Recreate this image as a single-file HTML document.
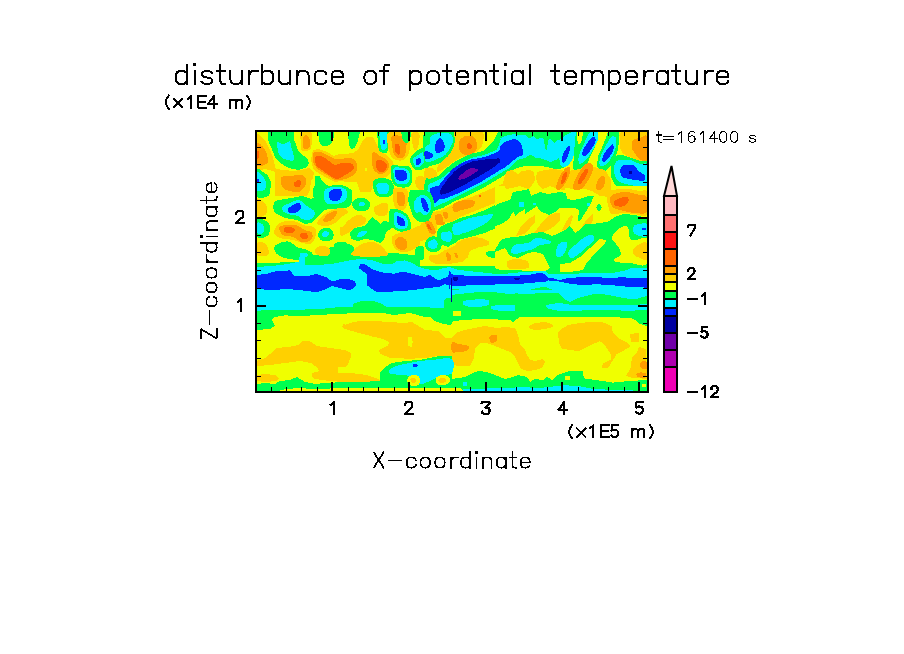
<!DOCTYPE html><html><head><meta charset="utf-8"><style>html,body{margin:0;padding:0;background:#fff;}svg{display:block}</style></head><body>
<svg width="904" height="654" viewBox="0 0 904 654">
<rect width="904" height="654" fill="#fff"/>
<g shape-rendering="crispEdges">
<rect x="257" y="132" width="390" height="259" fill="#f0ff00"/>
<path fill="#7000a8" d="M470 168h5v1h-5zM468 169h10v1h-10zM466 170h12v1h-12zM465 171h12v1h-12zM464 172h11v1h-11zM463 173h11v1h-11zM461 174h11v1h-11zM460 175h11v1h-11zM459 176h10v1h-10zM459 177h8v1h-8zM458 178h7v1h-7zM459 179h2v1h-2z"/>
<path fill="#0000a0" d="M497 158h2v1h-2zM485 159h15v1h-15zM478 160h22v1h-22zM472 161h28v1h-28zM470 162h30v1h-30zM467 163h31v1h-31zM465 164h32v1h-32zM463 165h33v1h-33zM461 166h34v1h-34zM460 167h33v1h-33zM458 168h12v1h-12zM475 168h17v1h-17zM457 169h11v1h-11zM478 169h12v1h-12zM456 170h10v1h-10zM478 170h11v1h-11zM454 171h11v1h-11zM477 171h10v1h-10zM629 171h3v3h-3zM453 172h11v1h-11zM475 172h10v1h-10zM453 173h10v1h-10zM474 173h10v1h-10zM452 174h9v1h-9zM472 174h10v1h-10zM451 175h9v1h-9zM471 175h9v1h-9zM450 176h9v1h-9zM469 176h10v1h-10zM449 177h10v1h-10zM467 177h10v1h-10zM448 178h10v1h-10zM465 178h10v1h-10zM447 179h12v1h-12zM461 179h12v1h-12zM447 180h25v1h-25zM446 181h24v1h-24zM445 182h23v1h-23zM445 183h22v1h-22zM444 184h21v1h-21zM443 185h20v1h-20zM442 186h19v1h-19zM442 187h17v1h-17zM441 188h16v1h-16zM441 189h14v1h-14zM440 190h13v1h-13zM440 191h11v1h-11zM440 192h9v1h-9zM440 193h6v1h-6zM441 194h1v1h-1zM453 277h5v3h-5zM451 278h1v24h-1zM514 278h6v1h-6zM515 279h4v1h-4zM454 280h3v1h-3z"/>
<path fill="#0028ff" d="M592 137h3v1h-3zM439 138h2v1h-2zM591 138h4v1h-4zM438 139h4v1h-4zM512 139h4v1h-4zM590 139h6v1h-6zM383 140h2v4h-2zM437 140h6v1h-6zM509 140h9v1h-9zM589 140h7v1h-7zM436 141h7v1h-7zM506 141h13v1h-13zM588 141h7v2h-7zM436 142h8v2h-8zM504 142h16v1h-16zM503 143h18v1h-18zM587 143h8v1h-8zM435 144h9v1h-9zM435 148h9v3h-9zM502 144h19v1h-19zM586 144h8v2h-8zM612 144h1v1h-1zM435 145h10v3h-10zM501 145h21v1h-21zM611 145h2v1h-2zM500 146h22v3h-22zM568 146h2v1h-2zM585 146h8v1h-8zM610 146h4v1h-4zM567 147h3v1h-3zM584 147h8v2h-8zM609 147h5v1h-5zM566 148h4v2h-4zM608 148h6v1h-6zM500 149h23v1h-23zM583 149h8v1h-8zM607 149h6v1h-6zM499 150h24v1h-24zM565 150h5v1h-5zM583 150h7v2h-7zM606 150h7v2h-7zM425 151h3v1h-3zM436 151h6v1h-6zM498 151h25v1h-25zM564 151h5v2h-5zM424 152h6v1h-6zM436 152h4v1h-4zM496 152h27v1h-27zM582 152h7v1h-7zM605 152h7v1h-7zM424 153h8v1h-8zM494 153h29v1h-29zM563 153h6v1h-6zM582 153h6v1h-6zM604 153h8v1h-8zM424 154h9v2h-9zM491 154h32v1h-32zM563 154h5v2h-5zM582 154h5v1h-5zM604 154h7v1h-7zM489 155h33v1h-33zM583 155h3v1h-3zM603 155h7v2h-7zM425 156h8v1h-8zM486 156h33v1h-33zM562 156h6v1h-6zM425 157h7v1h-7zM482 157h35v1h-35zM562 157h5v2h-5zM603 157h6v1h-6zM418 158h2v1h-2zM425 158h5v1h-5zM477 158h20v1h-20zM499 158h17v1h-17zM602 158h6v1h-6zM416 159h5v4h-5zM471 159h14v1h-14zM500 159h15v1h-15zM562 159h4v2h-4zM602 159h5v1h-5zM468 160h10v1h-10zM500 160h13v1h-13zM602 160h4v1h-4zM465 161h7v1h-7zM500 161h12v1h-12zM562 161h3v1h-3zM603 161h2v1h-2zM463 162h7v1h-7zM500 162h11v1h-11zM563 162h1v1h-1zM416 163h4v1h-4zM461 163h6v1h-6zM498 163h12v1h-12zM416 164h3v1h-3zM459 164h6v1h-6zM497 164h12v1h-12zM458 165h5v1h-5zM496 165h11v1h-11zM623 165h11v1h-11zM456 166h5v1h-5zM495 166h11v1h-11zM622 166h13v1h-13zM455 167h5v1h-5zM493 167h12v1h-12zM621 167h15v1h-15zM453 168h5v1h-5zM492 168h11v1h-11zM621 168h16v1h-16zM452 169h5v1h-5zM490 169h11v1h-11zM620 169h17v1h-17zM395 170h9v1h-9zM451 170h5v1h-5zM489 170h10v1h-10zM620 170h18v1h-18zM395 171h11v2h-11zM450 171h4v1h-4zM487 171h11v1h-11zM620 171h9v2h-9zM632 171h7v1h-7zM450 172h3v1h-3zM485 172h11v1h-11zM632 172h9v1h-9zM395 173h12v4h-12zM449 173h4v1h-4zM449 274h4v1h-4zM484 173h11v1h-11zM621 173h8v1h-8zM632 173h10v1h-10zM448 174h4v1h-4zM482 174h11v1h-11zM621 174h23v1h-23zM447 175h4v1h-4zM480 175h11v1h-11zM621 175h24v1h-24zM446 176h4v1h-4zM479 176h11v1h-11zM622 176h23v1h-23zM396 177h11v2h-11zM445 177h4v1h-4zM477 177h11v1h-11zM623 177h22v1h-22zM444 178h4v1h-4zM475 178h11v1h-11zM627 178h18v1h-18zM257 179h2v4h-2zM397 179h9v1h-9zM444 179h3v1h-3zM473 179h12v1h-12zM632 179h13v1h-13zM399 180h5v1h-5zM443 180h4v1h-4zM472 180h11v1h-11zM639 180h5v1h-5zM442 181h4v1h-4zM470 181h12v1h-12zM441 182h4v1h-4zM468 182h12v1h-12zM440 183h5v1h-5zM467 183h11v1h-11zM440 184h4v1h-4zM465 184h11v1h-11zM439 185h4v1h-4zM463 185h11v1h-11zM435 186h7v1h-7zM461 186h11v1h-11zM432 187h10v1h-10zM459 187h11v1h-11zM430 188h11v2h-11zM457 188h11v1h-11zM333 189h8v1h-8zM455 189h11v1h-11zM331 190h10v1h-10zM430 190h10v3h-10zM453 190h11v1h-11zM330 191h12v1h-12zM451 191h11v1h-11zM329 192h13v4h-13zM449 192h11v1h-11zM431 193h9v1h-9zM446 193h12v1h-12zM431 194h10v1h-10zM442 194h13v1h-13zM432 195h21v1h-21zM329 196h12v2h-12zM432 196h18v1h-18zM433 197h15v1h-15zM330 198h10v2h-10zM421 198h3v1h-3zM433 198h12v1h-12zM421 199h4v1h-4zM433 199h6v1h-6zM332 200h6v1h-6zM421 200h5v2h-5zM434 200h4v1h-4zM434 201h3v1h-3zM421 202h6v1h-6zM434 202h2v1h-2zM296 203h4v1h-4zM422 203h5v1h-5zM294 204h6v1h-6zM422 204h6v3h-6zM292 205h9v1h-9zM291 206h10v1h-10zM289 207h12v1h-12zM423 207h5v1h-5zM288 208h13v1h-13zM423 208h6v1h-6zM288 209h12v1h-12zM424 209h5v1h-5zM288 210h11v1h-11zM424 210h4v1h-4zM288 211h10v1h-10zM426 211h2v1h-2zM289 212h7v1h-7zM397 216h2v1h-2zM397 217h4v1h-4zM397 218h6v1h-6zM397 219h7v2h-7zM397 221h8v2h-8zM398 223h7v2h-7zM400 225h5v1h-5zM642 228h4v2h-4zM360 264h5v1h-5zM360 265h7v1h-7zM359 266h9v1h-9zM359 267h11v1h-11zM359 268h12v1h-12zM361 269h12v1h-12zM288 270h2v1h-2zM362 270h14v1h-14zM275 271h16v1h-16zM363 271h16v1h-16zM449 271h1v1h-1zM449 285h1v4h-1zM271 272h21v1h-21zM365 272h18v1h-18zM399 272h8v1h-8zM449 272h2v2h-2zM268 273h24v1h-24zM366 273h26v1h-26zM395 273h16v1h-16zM536 273h7v1h-7zM261 274h32v1h-32zM314 274h4v1h-4zM367 274h48v1h-48zM531 274h14v1h-14zM257 275h37v1h-37zM310 275h11v1h-11zM367 275h52v1h-52zM428 275h3v1h-3zM448 275h16v1h-16zM520 275h26v1h-26zM257 276h67v1h-67zM367 276h56v1h-56zM426 276h6v1h-6zM448 276h99v1h-99zM257 277h70v1h-70zM257 288h70v1h-70zM367 277h67v1h-67zM446 277h7v1h-7zM458 277h90v1h-90zM576 277h26v1h-26zM618 277h8v1h-8zM257 278h71v1h-71zM367 278h68v1h-68zM443 278h8v1h-8zM452 278h1v2h-1zM458 278h56v1h-56zM520 278h34v1h-34zM566 278h81v1h-81zM257 279h72v1h-72zM257 287h72v1h-72zM339 279h11v1h-11zM367 279h70v1h-70zM441 279h10v1h-10zM458 279h57v1h-57zM519 279h38v1h-38zM562 279h85v1h-85zM257 280h74v1h-74zM257 286h74v1h-74zM336 280h17v1h-17zM367 280h84v4h-84zM452 280h2v1h-2zM457 280h91v1h-91zM549 280h98v1h-98zM257 281h98v2h-98zM452 281h94v1h-94zM559 281h88v1h-88zM452 282h83v1h-83zM564 282h83v1h-83zM257 283h99v3h-99zM452 283h72v1h-72zM569 283h78v1h-78zM367 284h77v1h-77zM446 284h5v1h-5zM452 284h43v1h-43zM577 284h15v1h-15zM601 284h46v1h-46zM367 285h75v1h-75zM452 285h14v1h-14zM615 285h32v1h-32zM334 286h21v1h-21zM369 286h71v1h-71zM625 286h22v1h-22zM338 287h16v1h-16zM370 287h63v1h-63zM644 287h3v1h-3zM342 288h11v1h-11zM371 288h53v1h-53zM264 289h16v1h-16zM293 289h32v1h-32zM346 289h5v1h-5zM373 289h44v1h-44zM303 290h19v1h-19zM374 290h34v1h-34zM311 291h8v1h-8zM376 291h17v1h-17zM413 364h4v1h-4zM413 366h4v1h-4zM413 365h5v1h-5z"/>
<path fill="#00f0ff" d="M380 132h7v2h-7zM380 136h7v4h-7zM380 144h7v1h-7zM571 132h5v1h-5zM590 132h8v1h-8zM437 133h12v1h-12zM569 133h7v1h-7zM589 133h9v1h-9zM379 134h8v2h-8zM379 193h8v1h-8zM434 134h17v1h-17zM512 134h4v1h-4zM512 161h4v1h-4zM567 134h9v1h-9zM588 134h10v2h-10zM432 135h20v1h-20zM507 135h19v1h-19zM565 135h11v1h-11zM431 136h21v1h-21zM504 136h23v1h-23zM533 136h1v1h-1zM564 136h11v1h-11zM587 136h11v1h-11zM612 136h2v1h-2zM612 152h2v2h-2zM430 137h23v1h-23zM502 137h26v1h-26zM531 137h4v1h-4zM562 137h13v1h-13zM587 137h5v1h-5zM595 137h3v2h-3zM611 137h5v1h-5zM430 138h9v1h-9zM441 138h12v1h-12zM500 138h36v1h-36zM539 138h4v1h-4zM561 138h14v1h-14zM586 138h5v1h-5zM610 138h6v1h-6zM430 139h8v1h-8zM430 158h8v1h-8zM442 139h11v1h-11zM501 139h11v1h-11zM516 139h28v1h-28zM516 244h28v1h-28zM549 139h2v1h-2zM560 139h15v1h-15zM586 139h4v1h-4zM596 139h2v2h-2zM609 139h7v2h-7zM380 140h3v4h-3zM385 140h2v4h-2zM430 140h7v1h-7zM443 140h10v2h-10zM500 140h9v1h-9zM518 140h26v1h-26zM548 140h4v1h-4zM557 140h18v1h-18zM585 140h4v1h-4zM289 141h1v1h-1zM430 141h6v3h-6zM430 152h6v1h-6zM500 141h6v1h-6zM519 141h25v1h-25zM548 141h5v1h-5zM556 141h19v1h-19zM585 141h3v2h-3zM595 141h2v2h-2zM608 141h8v2h-8zM277 142h2v1h-2zM287 142h3v1h-3zM444 142h9v1h-9zM500 142h4v1h-4zM520 142h24v1h-24zM548 142h6v1h-6zM555 142h20v1h-20zM277 143h4v1h-4zM285 143h6v1h-6zM444 143h8v2h-8zM499 143h4v1h-4zM521 143h23v1h-23zM548 143h27v2h-27zM584 143h3v1h-3zM595 143h1v1h-1zM607 143h9v1h-9zM277 144h14v4h-14zM429 144h6v1h-6zM499 144h3v1h-3zM521 144h24v1h-24zM584 144h2v1h-2zM594 144h2v1h-2zM606 144h6v1h-6zM613 144h3v2h-3zM381 145h6v3h-6zM427 145h8v1h-8zM445 145h6v2h-6zM499 145h2v1h-2zM522 145h23v4h-23zM547 145h28v1h-28zM583 145h3v1h-3zM594 145h1v1h-1zM606 145h5v1h-5zM426 146h9v1h-9zM498 146h2v2h-2zM547 146h21v1h-21zM570 146h5v1h-5zM583 146h2v1h-2zM593 146h2v1h-2zM605 146h5v1h-5zM614 146h2v2h-2zM425 147h10v4h-10zM445 147h5v1h-5zM547 147h20v1h-20zM570 147h4v4h-4zM570 257h4v1h-4zM582 147h2v2h-2zM592 147h2v2h-2zM605 147h4v1h-4zM605 161h4v1h-4zM278 148h14v3h-14zM381 148h5v1h-5zM444 148h6v1h-6zM497 148h3v2h-3zM547 148h19v2h-19zM604 148h4v1h-4zM614 148h1v1h-1zM382 149h3v1h-3zM444 149h5v2h-5zM523 149h23v1h-23zM581 149h2v2h-2zM591 149h2v1h-2zM604 149h3v1h-3zM613 149h2v2h-2zM495 150h4v1h-4zM523 150h42v1h-42zM590 150h2v2h-2zM603 150h3v2h-3zM278 151h15v2h-15zM428 151h8v1h-8zM442 151h6v1h-6zM493 151h5v1h-5zM493 174h5v1h-5zM523 151h41v2h-41zM569 151h5v3h-5zM580 151h3v1h-3zM613 151h1v1h-1zM422 152h1v1h-1zM440 152h7v1h-7zM490 152h6v1h-6zM580 152h2v2h-2zM589 152h2v1h-2zM602 152h3v1h-3zM279 153h14v2h-14zM420 153h3v1h-3zM420 163h3v1h-3zM432 153h14v1h-14zM488 153h6v1h-6zM523 153h40v2h-40zM588 153h3v1h-3zM602 153h2v1h-2zM419 154h4v1h-4zM433 154h13v1h-13zM485 154h6v1h-6zM568 154h6v2h-6zM579 154h3v1h-3zM587 154h3v1h-3zM587 203h3v3h-3zM601 154h3v1h-3zM611 154h2v1h-2zM280 155h14v1h-14zM417 155h6v1h-6zM433 155h11v1h-11zM482 155h7v1h-7zM522 155h7v1h-7zM532 155h31v1h-31zM579 155h4v1h-4zM579 162h4v1h-4zM586 155h3v1h-3zM601 155h2v2h-2zM610 155h3v1h-3zM281 156h13v1h-13zM416 156h8v1h-8zM433 156h10v1h-10zM477 156h9v1h-9zM519 156h8v1h-8zM534 156h28v1h-28zM568 156h5v1h-5zM579 156h10v1h-10zM610 156h2v1h-2zM282 157h12v1h-12zM414 157h10v1h-10zM414 209h10v1h-10zM432 157h9v1h-9zM473 157h9v1h-9zM517 157h9v1h-9zM535 157h27v1h-27zM567 157h6v2h-6zM567 300h6v1h-6zM579 157h9v1h-9zM600 157h3v1h-3zM609 157h2v1h-2zM283 158h11v1h-11zM413 158h5v1h-5zM420 158h4v1h-4zM470 158h7v1h-7zM516 158h7v1h-7zM541 158h17v1h-17zM559 158h3v2h-3zM578 158h9v1h-9zM600 158h2v3h-2zM608 158h3v1h-3zM286 159h8v1h-8zM286 204h8v1h-8zM413 159h3v4h-3zM421 159h3v4h-3zM425 159h11v1h-11zM468 159h3v1h-3zM515 159h4v1h-4zM544 159h13v1h-13zM566 159h6v2h-6zM578 159h8v1h-8zM607 159h3v1h-3zM290 160h3v1h-3zM425 160h9v1h-9zM466 160h2v1h-2zM513 160h4v1h-4zM547 160h7v1h-7zM560 160h2v2h-2zM578 160h7v1h-7zM606 160h4v1h-4zM618 160h14v1h-14zM426 161h5v1h-5zM464 161h1v1h-1zM549 161h3v1h-3zM565 161h6v1h-6zM579 161h5v1h-5zM599 161h4v1h-4zM616 161h18v1h-18zM462 162h1v1h-1zM511 162h4v1h-4zM560 162h3v1h-3zM564 162h6v1h-6zM599 162h9v1h-9zM616 162h20v1h-20zM414 163h2v2h-2zM510 163h4v1h-4zM560 163h10v1h-10zM579 163h2v1h-2zM599 163h8v1h-8zM615 163h24v1h-24zM644 163h2v1h-2zM419 164h3v1h-3zM509 164h4v1h-4zM560 164h9v1h-9zM600 164h6v1h-6zM615 164h32v1h-32zM615 272h32v1h-32zM415 165h6v1h-6zM415 200h6v1h-6zM457 165h1v1h-1zM507 165h5v1h-5zM561 165h7v1h-7zM600 165h4v1h-4zM614 165h9v1h-9zM634 165h13v1h-13zM634 225h13v2h-13zM634 232h13v2h-13zM415 166h5v1h-5zM506 166h5v1h-5zM562 166h4v1h-4zM614 166h8v1h-8zM635 166h12v1h-12zM395 167h4v1h-4zM395 180h4v1h-4zM505 167h5v1h-5zM614 167h7v2h-7zM614 173h7v1h-7zM636 167h11v1h-11zM636 234h11v1h-11zM394 168h11v1h-11zM503 168h6v1h-6zM637 168h10v2h-10zM637 224h10v1h-10zM393 169h14v1h-14zM501 169h6v1h-6zM614 169h6v4h-6zM393 170h2v3h-2zM404 170h4v1h-4zM404 220h4v1h-4zM499 170h6v1h-6zM638 170h9v1h-9zM638 235h9v1h-9zM406 171h3v2h-3zM498 171h5v1h-5zM639 171h8v1h-8zM257 172h2v1h-2zM448 172h2v1h-2zM448 231h2v1h-2zM496 172h6v1h-6zM641 172h6v1h-6zM257 173h3v1h-3zM394 173h1v4h-1zM407 173h3v6h-3zM447 173h2v1h-2zM495 173h5v1h-5zM642 173h5v1h-5zM257 174h4v1h-4zM257 223h4v1h-4zM257 274h4v1h-4zM257 310h4v1h-4zM446 174h2v1h-2zM615 174h6v2h-6zM644 174h3v1h-3zM644 180h3v1h-3zM257 175h5v1h-5zM445 175h2v1h-2zM491 175h6v1h-6zM645 175h2v5h-2zM257 176h6v1h-6zM257 190h6v1h-6zM257 224h6v2h-6zM257 232h6v1h-6zM444 176h2v1h-2zM444 284h2v1h-2zM490 176h5v1h-5zM615 176h7v1h-7zM257 177h7v2h-7zM257 226h7v6h-7zM257 289h7v1h-7zM394 177h2v2h-2zM442 177h3v1h-3zM488 177h5v1h-5zM488 214h5v1h-5zM616 177h7v1h-7zM441 178h3v1h-3zM486 178h6v1h-6zM616 178h11v1h-11zM259 179h6v2h-6zM395 179h2v1h-2zM406 179h4v1h-4zM439 179h5v1h-5zM485 179h5v1h-5zM617 179h15v1h-15zM404 180h5v1h-5zM437 180h6v1h-6zM483 180h5v1h-5zM618 180h21v1h-21zM259 181h7v2h-7zM395 181h14v1h-14zM435 181h7v1h-7zM482 181h5v1h-5zM619 181h28v1h-28zM396 182h12v1h-12zM396 261h12v1h-12zM433 182h8v1h-8zM480 182h5v1h-5zM621 182h26v1h-26zM257 183h9v5h-9zM378 183h9v1h-9zM397 183h10v1h-10zM430 183h10v1h-10zM478 183h5v1h-5zM624 183h23v1h-23zM377 184h11v1h-11zM429 184h11v1h-11zM476 184h5v1h-5zM628 184h19v1h-19zM628 269h19v1h-19zM376 185h13v2h-13zM428 185h11v1h-11zM474 185h5v1h-5zM633 185h14v1h-14zM633 227h14v1h-14zM633 230h14v2h-14zM428 186h7v1h-7zM472 186h5v1h-5zM330 187h12v1h-12zM377 187h12v4h-12zM428 187h4v1h-4zM470 187h5v1h-5zM257 188h8v2h-8zM327 188h17v1h-17zM428 188h2v2h-2zM428 191h2v1h-2zM428 210h2v2h-2zM468 188h5v1h-5zM325 189h8v1h-8zM341 189h5v2h-5zM466 189h5v1h-5zM325 190h6v1h-6zM427 190h3v1h-3zM464 190h5v1h-5zM324 191h6v1h-6zM324 198h6v2h-6zM342 191h5v5h-5zM378 191h10v2h-10zM462 191h5v1h-5zM324 192h5v6h-5zM460 192h5v1h-5zM458 193h5v1h-5zM455 194h6v1h-6zM420 195h5v1h-5zM453 195h6v1h-6zM341 196h6v2h-6zM419 196h8v1h-8zM450 196h7v1h-7zM417 197h11v1h-11zM448 197h7v1h-7zM340 198h6v2h-6zM416 198h5v2h-5zM424 198h5v1h-5zM445 198h8v1h-8zM425 199h5v1h-5zM439 199h12v1h-12zM296 200h4v1h-4zM325 200h7v1h-7zM338 200h7v1h-7zM426 200h4v2h-4zM438 200h11v1h-11zM293 201h9v1h-9zM325 201h19v1h-19zM414 201h7v2h-7zM437 201h10v1h-10zM291 202h12v1h-12zM326 202h16v1h-16zM360 202h4v1h-4zM427 202h4v2h-4zM436 202h9v1h-9zM519 202h5v5h-5zM289 203h7v1h-7zM300 203h4v1h-4zM327 203h12v1h-12zM359 203h6v2h-6zM414 203h8v4h-8zM434 203h8v1h-8zM533 203h3v2h-3zM300 204h5v1h-5zM428 204h3v4h-3zM434 204h6v1h-6zM284 205h8v1h-8zM301 205h5v1h-5zM359 205h5v1h-5zM434 205h4v1h-4zM283 206h8v1h-8zM301 206h7v1h-7zM434 206h2v1h-2zM282 207h7v1h-7zM301 207h8v1h-8zM414 207h9v2h-9zM282 208h6v2h-6zM301 208h10v1h-10zM429 208h2v2h-2zM300 209h12v1h-12zM283 210h5v2h-5zM299 210h15v1h-15zM299 216h15v1h-15zM415 210h9v1h-9zM298 211h16v1h-16zM415 211h11v1h-11zM285 212h4v1h-4zM296 212h19v1h-19zM395 212h3v1h-3zM416 212h2v1h-2zM421 212h8v1h-8zM287 213h28v1h-28zM394 213h7v1h-7zM422 213h6v1h-6zM290 214h25v1h-25zM394 214h9v1h-9zM423 214h4v1h-4zM296 215h18v1h-18zM394 215h10v1h-10zM483 215h10v1h-10zM394 216h3v7h-3zM399 216h7v1h-7zM477 216h15v1h-15zM300 217h13v1h-13zM401 217h5v1h-5zM472 217h20v1h-20zM301 218h11v1h-11zM403 218h4v1h-4zM468 218h23v1h-23zM304 219h6v1h-6zM404 219h3v1h-3zM466 219h24v1h-24zM463 220h26v1h-26zM463 301h26v4h-26zM405 221h3v5h-3zM461 221h27v1h-27zM258 222h1v1h-1zM458 222h29v1h-29zM394 223h4v2h-4zM455 223h30v1h-30zM642 223h4v1h-4zM642 236h4v1h-4zM453 224h31v1h-31zM395 225h5v1h-5zM453 225h29v1h-29zM395 226h12v1h-12zM453 226h27v1h-27zM396 227h11v1h-11zM452 227h26v1h-26zM398 228h7v1h-7zM452 228h24v1h-24zM633 228h9v2h-9zM646 228h1v2h-1zM452 229h22v1h-22zM452 292h22v1h-22zM452 230h19v1h-19zM324 231h3v1h-3zM361 231h6v1h-6zM453 231h16v1h-16zM323 232h6v1h-6zM359 232h8v1h-8zM442 232h9v1h-9zM442 239h9v1h-9zM453 232h13v1h-13zM258 233h4v1h-4zM322 233h7v2h-7zM358 233h8v1h-8zM441 233h11v6h-11zM453 233h9v1h-9zM358 234h7v1h-7zM454 234h6v1h-6zM322 235h6v1h-6zM357 235h7v1h-7zM588 235h5v1h-5zM323 236h4v1h-4zM357 236h5v1h-5zM586 236h8v1h-8zM584 237h10v1h-10zM535 238h7v1h-7zM583 238h11v1h-11zM433 239h2v1h-2zM533 239h13v1h-13zM533 271h13v1h-13zM581 239h13v1h-13zM431 240h5v1h-5zM443 240h8v1h-8zM532 240h17v1h-17zM580 240h14v1h-14zM429 241h8v1h-8zM429 247h8v1h-8zM446 241h4v1h-4zM531 241h20v1h-20zM579 241h14v1h-14zM428 242h9v1h-9zM428 245h9v2h-9zM529 242h22v1h-22zM561 242h6v1h-6zM578 242h14v1h-14zM428 243h10v2h-10zM524 243h26v1h-26zM560 243h7v1h-7zM577 243h14v1h-14zM558 244h9v2h-9zM576 244h14v1h-14zM514 245h25v1h-25zM574 245h15v1h-15zM513 246h24v1h-24zM557 246h10v2h-10zM573 246h14v1h-14zM512 247h24v1h-24zM572 247h14v1h-14zM431 248h4v1h-4zM512 248h22v1h-22zM557 248h9v1h-9zM571 248h14v1h-14zM511 249h21v1h-21zM556 249h10v2h-10zM570 249h14v1h-14zM511 250h17v1h-17zM569 250h14v1h-14zM511 251h14v1h-14zM556 251h9v2h-9zM569 251h13v1h-13zM511 252h10v1h-10zM568 252h13v1h-13zM300 253h7v1h-7zM300 256h7v1h-7zM513 253h5v1h-5zM556 253h8v1h-8zM568 253h11v1h-11zM300 254h8v2h-8zM556 254h7v2h-7zM568 254h10v1h-10zM569 255h8v1h-8zM557 256h4v1h-4zM569 256h6v1h-6zM299 257h6v5h-6zM356 259h11v1h-11zM356 283h11v3h-11zM349 260h24v1h-24zM404 260h1v1h-1zM344 261h32v1h-32zM295 262h10v1h-10zM339 262h40v1h-40zM395 262h16v1h-16zM290 263h15v1h-15zM334 263h48v1h-48zM393 263h20v1h-20zM284 264h21v1h-21zM324 264h36v1h-36zM365 264h50v1h-50zM276 265h84v1h-84zM367 265h49v1h-49zM264 266h95v1h-95zM368 266h50v1h-50zM257 267h102v2h-102zM370 267h51v1h-51zM447 267h4v1h-4zM371 268h53v1h-53zM442 268h12v1h-12zM630 268h17v1h-17zM257 269h104v1h-104zM373 269h56v1h-56zM439 269h18v1h-18zM257 270h31v1h-31zM290 270h72v1h-72zM376 270h88v1h-88zM625 270h22v1h-22zM257 271h18v1h-18zM291 271h72v1h-72zM379 271h70v1h-70zM450 271h23v1h-23zM620 271h27v1h-27zM257 272h14v1h-14zM292 272h73v1h-73zM383 272h16v1h-16zM407 272h42v1h-42zM451 272h32v1h-32zM518 272h29v1h-29zM257 273h11v1h-11zM292 273h74v1h-74zM392 273h3v1h-3zM411 273h38v1h-38zM451 273h41v1h-41zM508 273h28v1h-28zM543 273h5v1h-5zM579 273h68v1h-68zM293 274h21v1h-21zM318 274h49v1h-49zM415 274h34v1h-34zM453 274h78v1h-78zM545 274h102v1h-102zM294 275h16v1h-16zM321 275h46v1h-46zM419 275h9v1h-9zM431 275h17v1h-17zM464 275h56v1h-56zM546 275h101v1h-101zM546 305h101v2h-101zM324 276h43v1h-43zM423 276h3v1h-3zM432 276h16v1h-16zM547 276h100v1h-100zM547 307h100v1h-100zM327 277h40v1h-40zM434 277h12v1h-12zM548 277h28v1h-28zM602 277h16v1h-16zM626 277h21v1h-21zM328 278h39v1h-39zM435 278h8v1h-8zM554 278h12v1h-12zM329 279h10v1h-10zM350 279h17v1h-17zM437 279h4v1h-4zM557 279h5v1h-5zM331 280h5v1h-5zM353 280h14v1h-14zM548 280h1v1h-1zM355 281h12v2h-12zM546 281h13v1h-13zM535 282h29v1h-29zM524 283h45v1h-45zM495 284h82v1h-82zM592 284h9v1h-9zM442 285h7v1h-7zM450 285h1v4h-1zM466 285h149v1h-149zM331 286h3v1h-3zM355 286h14v1h-14zM440 286h9v1h-9zM452 286h173v1h-173zM329 287h9v1h-9zM354 287h16v1h-16zM433 287h16v1h-16zM452 287h88v1h-88zM547 287h97v1h-97zM327 288h15v1h-15zM353 288h18v1h-18zM424 288h25v1h-25zM452 288h83v1h-83zM549 288h98v1h-98zM280 289h13v1h-13zM325 289h21v1h-21zM351 289h22v1h-22zM417 289h34v1h-34zM459 289h72v1h-72zM552 289h95v1h-95zM552 309h95v1h-95zM257 290h46v1h-46zM322 290h52v1h-52zM408 290h43v1h-43zM452 290h195v2h-195zM257 291h54v1h-54zM319 291h57v1h-57zM393 291h58v1h-58zM257 292h194v6h-194zM497 292h150v1h-150zM452 293h12v1h-12zM505 293h10v1h-10zM518 293h17v1h-17zM559 293h88v1h-88zM452 294h3v1h-3zM560 294h32v1h-32zM605 294h42v1h-42zM561 295h27v1h-27zM611 295h36v1h-36zM562 296h22v1h-22zM616 296h29v1h-29zM563 297h17v1h-17zM621 297h20v1h-20zM257 298h189v1h-189zM564 298h13v1h-13zM627 298h11v1h-11zM257 299h188v1h-188zM475 299h10v1h-10zM565 299h10v1h-10zM257 300h187v1h-187zM466 300h23v1h-23zM257 301h103v1h-103zM375 301h69v1h-69zM569 301h2v1h-2zM257 302h100v1h-100zM378 302h66v1h-66zM257 303h97v1h-97zM381 303h63v1h-63zM555 303h8v1h-8zM257 304h96v3h-96zM383 304h61v1h-61zM549 304h20v1h-20zM640 304h7v1h-7zM384 305h60v1h-60zM465 305h22v1h-22zM495 305h20v1h-20zM386 306h58v1h-58zM468 306h14v1h-14zM491 306h24v3h-24zM257 307h78v1h-78zM430 307h14v1h-14zM257 308h68v1h-68zM548 308h99v1h-99zM257 309h48v1h-48zM493 309h22v1h-22zM498 310h17v1h-17zM557 310h25v1h-25zM621 310h14v1h-14zM443 358h7v1h-7zM436 359h16v1h-16zM425 360h28v1h-28zM417 361h36v1h-36zM412 362h42v1h-42zM407 363h47v1h-47zM402 364h11v1h-11zM417 364h37v1h-37zM417 366h37v1h-37zM398 365h15v1h-15zM418 365h36v1h-36zM395 366h18v1h-18zM393 367h61v1h-61zM391 368h62v1h-62zM390 369h63v1h-63zM389 370h64v2h-64zM389 372h63v1h-63zM390 373h62v1h-62zM396 374h53v1h-53zM407 375h4v1h-4zM417 375h23v1h-23zM419 376h19v1h-19zM419 377h17v1h-17zM420 378h15v1h-15zM420 379h13v1h-13zM420 380h11v1h-11zM420 381h9v1h-9zM420 382h6v1h-6zM463 382h4v4h-4zM419 383h5v1h-5zM562 385h7v1h-7zM553 386h28v1h-28zM515 387h15v1h-15zM544 387h42v1h-42zM486 388h105v1h-105zM463 389h142v1h-142zM463 390h170v1h-170z"/>
<path fill="#00ff50" d="M268 132h26v9h-26zM318 132h16v4h-16zM348 132h12v2h-12zM377 132h3v2h-3zM377 136h3v2h-3zM387 132h2v1h-2zM401 132h10v2h-10zM424 132h30v1h-30zM498 132h73v1h-73zM576 132h1v4h-1zM583 132h7v1h-7zM608 132h11v1h-11zM387 133h1v1h-1zM387 143h1v5h-1zM424 133h13v1h-13zM424 383h13v1h-13zM449 133h5v1h-5zM497 133h72v1h-72zM583 133h6v1h-6zM607 133h12v3h-12zM348 134h11v4h-11zM377 134h2v2h-2zM402 134h9v3h-9zM424 134h10v1h-10zM451 134h3v1h-3zM451 145h3v2h-3zM497 134h15v1h-15zM516 134h51v1h-51zM583 134h5v2h-5zM583 162h5v1h-5zM423 135h9v1h-9zM452 135h2v2h-2zM452 143h2v2h-2zM452 234h2v1h-2zM496 135h11v1h-11zM526 135h39v1h-39zM319 136h15v2h-15zM423 136h8v1h-8zM496 136h8v1h-8zM496 248h8v1h-8zM527 136h6v1h-6zM534 136h30v1h-30zM575 136h2v5h-2zM582 136h5v2h-5zM606 136h6v1h-6zM614 136h5v1h-5zM402 137h8v2h-8zM423 137h7v7h-7zM453 137h2v6h-2zM495 137h7v1h-7zM495 176h7v1h-7zM528 137h3v1h-3zM535 137h27v1h-27zM606 137h5v1h-5zM616 137h3v8h-3zM319 138h14v3h-14zM319 237h14v1h-14zM348 138h10v1h-10zM378 138h2v7h-2zM495 138h5v1h-5zM536 138h3v1h-3zM543 138h18v1h-18zM582 138h4v2h-4zM582 251h4v1h-4zM606 138h4v1h-4zM349 139h9v3h-9zM403 139h7v2h-7zM494 139h7v1h-7zM544 139h5v1h-5zM551 139h9v1h-9zM605 139h4v2h-4zM494 140h6v1h-6zM544 140h4v4h-4zM552 140h5v1h-5zM582 140h3v1h-3zM269 141h20v1h-20zM290 141h5v2h-5zM319 141h13v1h-13zM404 141h5v1h-5zM493 141h7v1h-7zM553 141h3v1h-3zM575 141h3v3h-3zM581 141h4v2h-4zM581 252h4v1h-4zM604 141h4v2h-4zM269 142h8v2h-8zM279 142h8v1h-8zM320 142h12v1h-12zM320 230h12v1h-12zM320 239h12v1h-12zM349 142h8v2h-8zM405 142h3v1h-3zM492 142h8v1h-8zM554 142h1v1h-1zM281 143h4v1h-4zM291 143h5v3h-5zM320 143h11v1h-11zM491 143h8v1h-8zM580 143h4v1h-4zM604 143h3v1h-3zM270 144h7v2h-7zM321 144h9v1h-9zM349 144h7v2h-7zM423 144h6v1h-6zM490 144h9v1h-9zM545 144h3v1h-3zM575 144h9v1h-9zM603 144h3v2h-3zM322 145h6v1h-6zM378 145h3v3h-3zM423 145h4v1h-4zM489 145h10v1h-10zM545 145h2v4h-2zM575 145h8v2h-8zM616 145h2v3h-2zM271 146h6v2h-6zM291 146h6v2h-6zM350 146h5v2h-5zM423 146h3v1h-3zM488 146h10v1h-10zM602 146h3v2h-3zM423 147h2v1h-2zM450 147h3v2h-3zM450 231h3v1h-3zM487 147h11v1h-11zM574 147h8v2h-8zM594 147h1v1h-1zM272 148h6v3h-6zM292 148h5v1h-5zM351 148h2v1h-2zM379 148h2v1h-2zM379 242h2v1h-2zM386 148h2v1h-2zM421 148h4v1h-4zM486 148h11v1h-11zM602 148h2v1h-2zM615 148h3v3h-3zM292 149h6v2h-6zM379 149h3v1h-3zM385 149h3v1h-3zM419 149h6v1h-6zM449 149h3v2h-3zM449 374h3v1h-3zM449 377h3v1h-3zM485 149h12v1h-12zM546 149h1v1h-1zM574 149h7v2h-7zM593 149h1v1h-1zM601 149h3v1h-3zM379 150h9v1h-9zM417 150h8v1h-8zM484 150h11v1h-11zM592 150h1v2h-1zM601 150h2v1h-2zM273 151h5v2h-5zM293 151h6v1h-6zM293 259h6v1h-6zM293 378h6v1h-6zM380 151h7v1h-7zM416 151h9v1h-9zM448 151h3v1h-3zM481 151h12v1h-12zM574 151h6v3h-6zM600 151h3v1h-3zM614 151h3v3h-3zM293 152h7v1h-7zM382 152h5v1h-5zM415 152h7v1h-7zM415 169h7v1h-7zM423 152h1v4h-1zM447 152h4v1h-4zM447 324h4v1h-4zM477 152h13v1h-13zM591 152h1v2h-1zM600 152h2v1h-2zM274 153h5v2h-5zM293 153h8v1h-8zM414 153h6v1h-6zM446 153h4v1h-4zM472 153h16v1h-16zM599 153h3v1h-3zM293 154h9v1h-9zM413 154h6v1h-6zM446 154h3v1h-3zM470 154h15v1h-15zM574 154h5v4h-5zM574 257h5v1h-5zM590 154h1v1h-1zM590 203h1v1h-1zM599 154h2v1h-2zM613 154h3v2h-3zM274 155h6v1h-6zM294 155h9v1h-9zM412 155h5v1h-5zM444 155h4v1h-4zM467 155h15v1h-15zM529 155h3v1h-3zM589 155h2v1h-2zM598 155h3v2h-3zM617 155h7v1h-7zM275 156h6v1h-6zM294 156h11v1h-11zM411 156h5v1h-5zM424 156h1v5h-1zM443 156h5v1h-5zM465 156h12v1h-12zM527 156h7v1h-7zM589 156h1v1h-1zM612 156h15v1h-15zM275 157h7v1h-7zM294 157h12v1h-12zM411 157h3v1h-3zM411 163h3v2h-3zM411 209h3v1h-3zM441 157h5v1h-5zM463 157h10v1h-10zM526 157h9v1h-9zM588 157h2v1h-2zM598 157h2v4h-2zM598 204h2v1h-2zM598 210h2v1h-2zM611 157h19v1h-19zM276 158h7v1h-7zM294 158h13v1h-13zM294 197h13v1h-13zM410 158h3v5h-3zM438 158h7v1h-7zM461 158h9v1h-9zM461 194h9v1h-9zM523 158h18v1h-18zM558 158h1v1h-1zM574 158h4v3h-4zM587 158h2v1h-2zM611 158h22v1h-22zM277 159h9v1h-9zM294 159h14v1h-14zM436 159h8v1h-8zM459 159h9v1h-9zM459 195h9v1h-9zM459 218h9v1h-9zM519 159h25v1h-25zM557 159h2v1h-2zM586 159h3v1h-3zM610 159h26v1h-26zM278 160h12v1h-12zM278 214h12v1h-12zM293 160h15v1h-15zM434 160h9v1h-9zM457 160h9v1h-9zM457 196h9v1h-9zM457 219h9v1h-9zM517 160h30v1h-30zM554 160h6v1h-6zM585 160h4v1h-4zM585 248h4v1h-4zM610 160h8v1h-8zM632 160h7v1h-7zM279 161h29v1h-29zM424 161h2v1h-2zM431 161h11v1h-11zM455 161h9v1h-9zM455 197h9v1h-9zM516 161h33v1h-33zM552 161h8v1h-8zM573 161h6v3h-6zM584 161h4v1h-4zM584 249h4v1h-4zM597 161h2v3h-2zM609 161h7v1h-7zM634 161h13v1h-13zM634 319h13v1h-13zM280 162h29v1h-29zM424 162h17v1h-17zM454 162h8v1h-8zM515 162h45v1h-45zM608 162h8v1h-8zM636 162h11v1h-11zM636 320h11v1h-11zM281 163h28v1h-28zM423 163h16v1h-16zM452 163h9v1h-9zM514 163h46v1h-46zM581 163h6v1h-6zM607 163h8v1h-8zM639 163h5v1h-5zM646 163h1v1h-1zM646 223h1v1h-1zM646 236h1v1h-1zM646 264h1v1h-1zM646 384h1v3h-1zM283 164h25v1h-25zM422 164h14v1h-14zM422 359h14v1h-14zM451 164h8v1h-8zM451 199h8v1h-8zM513 164h47v1h-47zM573 164h12v1h-12zM597 164h3v2h-3zM606 164h9v1h-9zM284 165h24v1h-24zM392 165h6v1h-6zM412 165h3v2h-3zM421 165h11v1h-11zM450 165h7v1h-7zM450 241h7v1h-7zM512 165h49v1h-49zM573 165h11v1h-11zM604 165h10v1h-10zM286 166h21v1h-21zM391 166h18v1h-18zM420 166h9v1h-9zM449 166h7v1h-7zM449 200h7v1h-7zM511 166h12v1h-12zM544 166h18v1h-18zM573 166h10v1h-10zM597 166h13v1h-13zM611 166h3v8h-3zM288 167h18v1h-18zM391 167h4v1h-4zM399 167h11v1h-11zM413 167h15v1h-15zM447 167h8v1h-8zM447 223h8v1h-8zM510 167h9v1h-9zM549 167h15v1h-15zM573 167h9v1h-9zM598 167h11v1h-11zM291 168h12v1h-12zM391 168h3v1h-3zM391 173h3v6h-3zM405 168h6v1h-6zM405 228h6v1h-6zM414 168h10v1h-10zM446 168h7v1h-7zM509 168h7v1h-7zM553 168h8v1h-8zM573 168h8v1h-8zM599 168h9v1h-9zM257 169h3v1h-3zM296 169h4v1h-4zM391 169h2v4h-2zM407 169h4v1h-4zM407 183h4v1h-4zM407 226h4v2h-4zM445 169h7v1h-7zM445 202h7v1h-7zM507 169h7v1h-7zM574 169h3v1h-3zM603 169h4v1h-4zM257 170h4v1h-4zM257 218h4v1h-4zM408 170h4v1h-4zM408 182h4v1h-4zM444 170h7v1h-7zM444 300h7v2h-7zM505 170h5v1h-5zM605 170h1v1h-1zM257 171h5v1h-5zM409 171h3v2h-3zM409 180h3v2h-3zM443 171h7v1h-7zM503 171h4v1h-4zM259 172h5v1h-5zM442 172h6v1h-6zM502 172h4v1h-4zM260 173h5v1h-5zM410 173h2v7h-2zM441 173h6v1h-6zM500 173h6v1h-6zM261 174h6v1h-6zM440 174h6v1h-6zM498 174h7v1h-7zM611 174h4v3h-4zM262 175h6v1h-6zM439 175h6v1h-6zM497 175h7v1h-7zM263 176h5v1h-5zM315 176h5v2h-5zM315 214h5v1h-5zM437 176h7v1h-7zM264 177h5v2h-5zM434 177h8v1h-8zM493 177h8v1h-8zM611 177h5v1h-5zM315 178h6v2h-6zM315 213h6v1h-6zM378 178h8v1h-8zM426 178h2v1h-2zM431 178h10v1h-10zM431 208h10v1h-10zM492 178h7v1h-7zM612 178h4v1h-4zM265 179h5v2h-5zM265 188h5v2h-5zM375 179h14v1h-14zM392 179h3v2h-3zM426 179h13v1h-13zM490 179h7v1h-7zM612 179h5v1h-5zM315 180h7v1h-7zM315 212h7v1h-7zM374 180h17v1h-17zM425 180h12v1h-12zM488 180h8v1h-8zM488 251h8v1h-8zM613 180h5v1h-5zM266 181h5v7h-5zM315 181h8v1h-8zM373 181h22v1h-22zM425 181h10v1h-10zM487 181h7v1h-7zM613 181h6v1h-6zM315 182h9v1h-9zM373 182h19v1h-19zM393 182h3v1h-3zM425 182h8v1h-8zM485 182h7v1h-7zM614 182h7v1h-7zM315 183h10v1h-10zM373 183h5v1h-5zM387 183h10v1h-10zM425 183h5v1h-5zM483 183h8v1h-8zM614 183h10v1h-10zM315 184h11v1h-11zM373 184h4v1h-4zM373 187h4v2h-4zM388 184h5v1h-5zM388 191h5v2h-5zM394 184h17v1h-17zM424 184h5v1h-5zM481 184h8v1h-8zM615 184h13v1h-13zM315 185h13v1h-13zM332 185h11v1h-11zM373 185h3v2h-3zM389 185h5v4h-5zM389 213h5v9h-5zM395 185h15v1h-15zM395 229h15v1h-15zM424 185h4v5h-4zM479 185h8v1h-8zM616 185h17v1h-17zM314 186h32v1h-32zM397 186h12v1h-12zM477 186h9v1h-9zM314 187h16v1h-16zM342 187h6v1h-6zM402 187h3v1h-3zM475 187h9v1h-9zM313 188h14v1h-14zM344 188h5v1h-5zM473 188h9v1h-9zM313 189h12v2h-12zM346 189h5v1h-5zM374 189h3v2h-3zM389 189h4v2h-4zM471 189h9v1h-9zM527 189h2v1h-2zM263 190h7v1h-7zM263 225h7v1h-7zM346 190h6v1h-6zM346 198h6v2h-6zM410 190h17v1h-17zM469 190h9v1h-9zM522 190h7v1h-7zM257 191h13v3h-13zM313 191h11v6h-11zM347 191h5v7h-5zM374 191h4v1h-4zM410 191h18v1h-18zM467 191h9v1h-9zM516 191h14v1h-14zM375 192h3v1h-3zM409 192h21v1h-21zM465 192h9v1h-9zM513 192h17v1h-17zM539 192h3v1h-3zM557 192h6v1h-6zM375 193h4v1h-4zM387 193h6v1h-6zM409 193h22v2h-22zM463 193h9v1h-9zM512 193h18v1h-18zM537 193h9v1h-9zM551 193h15v1h-15zM257 194h12v2h-12zM257 234h12v1h-12zM376 194h16v1h-16zM512 194h19v2h-19zM534 194h32v1h-32zM377 195h14v1h-14zM409 195h11v1h-11zM425 195h7v1h-7zM532 195h34v1h-34zM257 196h10v1h-10zM257 221h10v1h-10zM299 196h5v1h-5zM379 196h10v1h-10zM409 196h10v1h-10zM427 196h5v1h-5zM427 214h5v1h-5zM511 196h56v3h-56zM587 196h7v1h-7zM258 197h6v1h-6zM258 237h6v1h-6zM314 197h10v1h-10zM314 210h10v1h-10zM408 197h9v1h-9zM428 197h5v1h-5zM584 197h9v1h-9zM288 198h22v1h-22zM288 315h22v1h-22zM312 198h12v1h-12zM357 198h8v1h-8zM408 198h8v2h-8zM429 198h4v1h-4zM429 212h4v1h-4zM453 198h8v1h-8zM453 221h8v1h-8zM581 198h12v1h-12zM282 199h42v1h-42zM355 199h12v1h-12zM430 199h3v1h-3zM430 211h3v1h-3zM510 199h60v1h-60zM576 199h16v1h-16zM277 200h19v1h-19zM300 200h25v1h-25zM345 200h7v1h-7zM354 200h14v1h-14zM408 200h7v1h-7zM430 200h4v2h-4zM508 200h84v1h-84zM275 201h18v1h-18zM302 201h23v1h-23zM344 201h8v1h-8zM353 201h16v1h-16zM353 207h16v1h-16zM408 201h6v1h-6zM447 201h7v1h-7zM505 201h87v1h-87zM274 202h17v1h-17zM303 202h23v1h-23zM342 202h18v1h-18zM364 202h6v1h-6zM364 205h6v1h-6zM409 202h5v4h-5zM431 202h3v5h-3zM502 202h17v1h-17zM524 202h67v1h-67zM274 203h15v1h-15zM304 203h23v1h-23zM339 203h12v1h-12zM352 203h7v3h-7zM365 203h5v2h-5zM442 203h9v1h-9zM499 203h20v1h-20zM524 203h9v2h-9zM536 203h51v2h-51zM274 204h12v1h-12zM305 204h46v1h-46zM440 204h9v1h-9zM497 204h22v1h-22zM273 205h11v1h-11zM306 205h44v1h-44zM438 205h9v1h-9zM494 205h1v1h-1zM496 205h23v1h-23zM524 205h63v1h-63zM597 205h4v2h-4zM597 208h4v2h-4zM273 206h10v1h-10zM308 206h41v1h-41zM353 206h17v1h-17zM410 206h4v3h-4zM436 206h9v1h-9zM492 206h27v1h-27zM524 206h12v1h-12zM537 206h52v1h-52zM273 207h9v2h-9zM309 207h38v1h-38zM431 207h13v1h-13zM490 207h45v1h-45zM538 207h50v1h-50zM596 207h6v1h-6zM311 208h26v1h-26zM354 208h15v1h-15zM488 208h45v1h-45zM538 208h21v1h-21zM576 208h12v1h-12zM274 209h8v1h-8zM312 209h15v1h-15zM355 209h13v1h-13zM390 209h8v1h-8zM431 209h7v1h-7zM486 209h38v1h-38zM525 209h7v1h-7zM539 209h19v1h-19zM539 245h19v1h-19zM578 209h9v1h-9zM274 210h9v2h-9zM357 210h9v1h-9zM390 210h11v1h-11zM411 210h4v2h-4zM430 210h5v1h-5zM484 210h39v1h-39zM525 210h5v1h-5zM540 210h17v1h-17zM579 210h8v1h-8zM314 211h9v1h-9zM389 211h14v1h-14zM481 211h40v1h-40zM525 211h4v1h-4zM541 211h15v1h-15zM541 253h15v1h-15zM579 211h7v1h-7zM275 212h10v1h-10zM389 212h6v1h-6zM398 212h6v1h-6zM412 212h4v1h-4zM418 212h3v1h-3zM478 212h35v1h-35zM514 212h5v1h-5zM525 212h2v1h-2zM543 212h11v1h-11zM579 212h6v2h-6zM276 213h11v1h-11zM401 213h5v1h-5zM412 213h10v1h-10zM428 213h4v1h-4zM476 213h36v1h-36zM514 213h4v1h-4zM525 213h1v1h-1zM546 213h6v1h-6zM403 214h4v1h-4zM412 214h11v1h-11zM473 214h15v1h-15zM493 214h18v2h-18zM515 214h2v1h-2zM548 214h2v1h-2zM579 214h5v1h-5zM579 253h5v1h-5zM622 214h8v1h-8zM280 215h16v1h-16zM314 215h5v1h-5zM404 215h4v1h-4zM413 215h18v2h-18zM470 215h13v1h-13zM515 215h1v1h-1zM578 215h5v2h-5zM578 254h5v1h-5zM619 215h18v1h-18zM282 216h17v1h-17zM314 216h4v1h-4zM406 216h2v1h-2zM466 216h11v1h-11zM492 216h18v2h-18zM616 216h25v1h-25zM284 217h16v1h-16zM313 217h4v1h-4zM372 217h1v1h-1zM406 217h3v1h-3zM414 217h17v1h-17zM462 217h10v1h-10zM578 217h4v2h-4zM614 217h32v1h-32zM288 218h13v1h-13zM312 218h4v1h-4zM371 218h3v1h-3zM407 218h2v1h-2zM415 218h15v1h-15zM491 218h18v1h-18zM613 218h34v1h-34zM257 219h6v1h-6zM257 329h6v1h-6zM294 219h10v1h-10zM310 219h5v1h-5zM370 219h5v1h-5zM407 219h3v1h-3zM416 219h13v1h-13zM490 219h18v1h-18zM578 219h3v1h-3zM611 219h36v1h-36zM257 220h8v1h-8zM298 220h16v1h-16zM369 220h8v1h-8zM408 220h2v2h-2zM417 220h12v1h-12zM455 220h8v1h-8zM489 220h18v1h-18zM578 220h2v1h-2zM610 220h37v1h-37zM300 221h13v1h-13zM368 221h10v1h-10zM383 221h4v1h-4zM419 221h7v1h-7zM488 221h17v1h-17zM608 221h39v1h-39zM257 222h1v1h-1zM257 233h1v1h-1zM259 222h9v1h-9zM302 222h10v1h-10zM368 222h11v1h-11zM382 222h12v1h-12zM408 222h3v4h-3zM450 222h8v1h-8zM487 222h17v1h-17zM603 222h44v1h-44zM261 223h8v1h-8zM304 223h4v1h-4zM367 223h13v1h-13zM381 223h13v1h-13zM485 223h17v1h-17zM596 223h46v1h-46zM263 224h6v1h-6zM263 232h6v1h-6zM366 224h28v1h-28zM445 224h8v1h-8zM484 224h16v1h-16zM585 224h52v1h-52zM365 225h30v1h-30zM443 225h10v1h-10zM482 225h15v1h-15zM584 225h50v1h-50zM264 226h6v6h-6zM362 226h33v1h-33zM441 226h12v1h-12zM480 226h15v1h-15zM569 226h1v1h-1zM583 226h40v1h-40zM627 226h7v1h-7zM357 227h39v1h-39zM440 227h12v1h-12zM478 227h17v1h-17zM568 227h3v1h-3zM582 227h39v1h-39zM582 310h39v1h-39zM628 227h5v2h-5zM323 228h7v1h-7zM354 228h37v1h-37zM394 228h4v1h-4zM439 228h13v1h-13zM439 322h13v1h-13zM476 228h19v1h-19zM567 228h5v1h-5zM567 247h5v1h-5zM581 228h38v1h-38zM321 229h10v1h-10zM353 229h37v1h-37zM438 229h14v2h-14zM438 244h14v1h-14zM474 229h19v1h-19zM566 229h7v1h-7zM580 229h38v1h-38zM629 229h4v3h-4zM352 230h36v1h-36zM397 230h10v1h-10zM471 230h19v1h-19zM564 230h9v1h-9zM579 230h38v1h-38zM319 231h5v1h-5zM327 231h6v1h-6zM327 236h6v1h-6zM351 231h10v1h-10zM367 231h20v1h-20zM400 231h3v1h-3zM437 231h11v1h-11zM469 231h19v1h-19zM562 231h12v1h-12zM577 231h39v1h-39zM319 232h4v1h-4zM329 232h4v2h-4zM350 232h9v1h-9zM367 232h19v1h-19zM437 232h5v1h-5zM437 245h5v1h-5zM451 232h2v1h-2zM466 232h20v1h-20zM538 232h6v1h-6zM560 232h15v1h-15zM576 232h39v1h-39zM629 232h5v2h-5zM262 233h7v1h-7zM318 233h4v3h-4zM350 233h8v2h-8zM366 233h20v1h-20zM437 233h4v4h-4zM437 246h4v2h-4zM452 233h1v1h-1zM462 233h21v1h-21zM531 233h15v1h-15zM558 233h56v1h-56zM329 234h5v1h-5zM365 234h20v1h-20zM460 234h19v1h-19zM528 234h21v1h-21zM556 234h57v1h-57zM629 234h7v1h-7zM257 235h11v1h-11zM328 235h6v1h-6zM350 235h7v1h-7zM364 235h21v1h-21zM452 235h24v1h-24zM525 235h26v1h-26zM553 235h35v1h-35zM593 235h20v1h-20zM629 235h9v1h-9zM257 236h9v1h-9zM318 236h5v1h-5zM351 236h6v1h-6zM362 236h23v1h-23zM432 236h3v1h-3zM452 236h20v1h-20zM519 236h67v1h-67zM594 236h18v3h-18zM629 236h13v1h-13zM351 237h34v1h-34zM429 237h12v1h-12zM452 237h16v1h-16zM510 237h74v1h-74zM630 237h17v1h-17zM320 238h13v1h-13zM351 238h33v1h-33zM428 238h13v1h-13zM452 238h12v1h-12zM505 238h30v1h-30zM542 238h41v1h-41zM630 238h11v1h-11zM353 239h10v1h-10zM369 239h15v1h-15zM427 239h6v1h-6zM435 239h7v1h-7zM451 239h9v1h-9zM502 239h31v1h-31zM546 239h35v1h-35zM594 239h5v1h-5zM603 239h9v1h-9zM631 239h7v1h-7zM322 240h8v1h-8zM356 240h4v1h-4zM374 240h9v1h-9zM426 240h5v1h-5zM426 248h5v1h-5zM436 240h7v1h-7zM451 240h7v1h-7zM501 240h31v1h-31zM549 240h31v1h-31zM594 240h4v1h-4zM606 240h7v1h-7zM286 241h2v1h-2zM376 241h6v1h-6zM426 241h3v1h-3zM426 247h3v1h-3zM437 241h9v1h-9zM500 241h31v1h-31zM551 241h28v1h-28zM593 241h4v1h-4zM606 241h8v1h-8zM281 242h10v1h-10zM337 242h9v1h-9zM425 242h3v5h-3zM437 242h19v1h-19zM499 242h30v1h-30zM551 242h10v1h-10zM567 242h11v1h-11zM592 242h4v1h-4zM605 242h10v1h-10zM279 243h13v1h-13zM335 243h12v1h-12zM438 243h16v1h-16zM499 243h25v1h-25zM550 243h10v1h-10zM550 267h10v1h-10zM567 243h10v1h-10zM591 243h4v1h-4zM605 243h11v1h-11zM277 244h17v1h-17zM334 244h16v1h-16zM498 244h18v1h-18zM498 319h18v1h-18zM544 244h14v1h-14zM567 244h9v1h-9zM590 244h4v1h-4zM604 244h12v1h-12zM275 245h20v1h-20zM334 245h18v1h-18zM444 245h6v1h-6zM498 245h16v1h-16zM567 245h7v1h-7zM589 245h4v1h-4zM603 245h14v1h-14zM275 246h21v1h-21zM334 246h19v1h-19zM418 246h5v1h-5zM447 246h2v1h-2zM497 246h16v1h-16zM537 246h20v1h-20zM567 246h6v1h-6zM587 246h5v1h-5zM602 246h16v1h-16zM274 247h24v1h-24zM330 247h24v1h-24zM330 249h24v2h-24zM416 247h8v2h-8zM496 247h16v1h-16zM536 247h21v1h-21zM586 247h5v1h-5zM601 247h18v1h-18zM274 248h28v1h-28zM329 248h25v1h-25zM435 248h6v1h-6zM505 248h7v1h-7zM534 248h23v1h-23zM566 248h5v1h-5zM600 248h19v1h-19zM274 249h32v1h-32zM415 249h9v6h-9zM427 249h13v1h-13zM495 249h6v1h-6zM506 249h5v1h-5zM532 249h24v1h-24zM566 249h4v1h-4zM599 249h21v1h-21zM275 250h33v1h-33zM428 250h11v1h-11zM495 250h4v1h-4zM507 250h4v2h-4zM528 250h28v1h-28zM566 250h3v1h-3zM583 250h4v1h-4zM598 250h22v1h-22zM275 251h35v1h-35zM330 251h23v1h-23zM430 251h7v1h-7zM525 251h31v1h-31zM565 251h4v1h-4zM597 251h23v1h-23zM276 252h36v1h-36zM330 252h22v1h-22zM486 252h9v3h-9zM508 252h3v1h-3zM521 252h10v1h-10zM537 252h19v1h-19zM565 252h3v1h-3zM596 252h25v1h-25zM276 253h24v1h-24zM307 253h5v1h-5zM330 253h21v1h-21zM388 253h11v1h-11zM508 253h5v1h-5zM518 253h9v1h-9zM564 253h4v1h-4zM595 253h26v1h-26zM278 254h22v1h-22zM308 254h5v1h-5zM329 254h22v1h-22zM388 254h20v1h-20zM509 254h16v1h-16zM543 254h13v1h-13zM563 254h5v1h-5zM594 254h27v1h-27zM279 255h21v1h-21zM308 255h11v1h-11zM328 255h25v1h-25zM387 255h37v1h-37zM487 255h8v1h-8zM487 305h8v1h-8zM510 255h13v1h-13zM544 255h12v1h-12zM563 255h6v1h-6zM577 255h5v1h-5zM593 255h27v1h-27zM281 256h19v1h-19zM307 256h53v1h-53zM380 256h44v1h-44zM488 256h7v1h-7zM512 256h9v1h-9zM544 256h13v1h-13zM561 256h8v1h-8zM575 256h6v1h-6zM592 256h27v1h-27zM283 257h16v1h-16zM305 257h119v2h-119zM491 257h4v1h-4zM516 257h3v1h-3zM545 257h25v1h-25zM591 257h26v1h-26zM287 258h12v1h-12zM545 258h32v1h-32zM591 258h24v1h-24zM305 259h51v1h-51zM367 259h56v1h-56zM546 259h30v1h-30zM590 259h24v1h-24zM305 260h44v1h-44zM373 260h31v1h-31zM405 260h15v1h-15zM546 260h28v1h-28zM589 260h25v1h-25zM305 261h39v1h-39zM376 261h20v1h-20zM408 261h12v1h-12zM547 261h25v1h-25zM588 261h27v1h-27zM280 262h15v1h-15zM305 262h34v1h-34zM379 262h16v1h-16zM411 262h9v1h-9zM547 262h24v1h-24zM587 262h33v1h-33zM257 263h33v1h-33zM305 263h29v1h-29zM382 263h11v1h-11zM413 263h7v1h-7zM548 263h17v1h-17zM586 263h47v1h-47zM257 264h27v1h-27zM257 315h27v1h-27zM257 389h27v1h-27zM305 264h19v1h-19zM415 264h5v1h-5zM548 264h12v1h-12zM548 269h12v1h-12zM586 264h51v1h-51zM257 265h19v1h-19zM416 265h4v1h-4zM549 265h11v2h-11zM549 268h11v1h-11zM585 265h57v1h-57zM643 265h4v1h-4zM257 266h7v1h-7zM418 266h77v1h-77zM585 266h62v1h-62zM421 267h26v1h-26zM451 267h44v1h-44zM584 267h63v1h-63zM424 268h18v1h-18zM454 268h42v1h-42zM584 268h46v1h-46zM429 269h10v1h-10zM457 269h42v1h-42zM583 269h45v1h-45zM464 270h58v1h-58zM546 270h14v2h-14zM580 270h45v1h-45zM473 271h60v1h-60zM573 271h47v1h-47zM483 272h35v1h-35zM547 272h68v1h-68zM492 273h16v1h-16zM548 273h31v1h-31zM540 287h7v1h-7zM535 288h14v1h-14zM452 289h7v1h-7zM531 289h21v1h-21zM474 292h23v1h-23zM464 293h41v1h-41zM515 293h3v1h-3zM535 293h24v1h-24zM455 294h105v1h-105zM592 294h13v1h-13zM452 295h109v1h-109zM588 295h23v1h-23zM452 296h110v1h-110zM584 296h32v1h-32zM645 296h2v1h-2zM645 325h2v1h-2zM452 297h111v1h-111zM580 297h41v1h-41zM641 297h6v1h-6zM446 298h5v1h-5zM452 298h112v1h-112zM577 298h50v1h-50zM638 298h9v1h-9zM638 322h9v1h-9zM638 380h9v1h-9zM445 299h6v1h-6zM452 299h23v1h-23zM485 299h80v1h-80zM575 299h72v1h-72zM452 300h14v1h-14zM489 300h78v1h-78zM573 300h74v1h-74zM360 301h15v1h-15zM452 301h11v1h-11zM489 301h80v1h-80zM571 301h76v1h-76zM357 302h21v1h-21zM444 302h19v3h-19zM489 302h158v1h-158zM354 303h27v1h-27zM489 303h66v1h-66zM563 303h84v1h-84zM353 304h30v1h-30zM489 304h60v1h-60zM569 304h71v1h-71zM353 305h31v1h-31zM444 305h21v1h-21zM515 305h31v2h-31zM353 306h33v1h-33zM444 306h24v1h-24zM482 306h9v1h-9zM335 307h95v1h-95zM444 307h47v1h-47zM515 307h32v1h-32zM325 308h166v1h-166zM515 308h33v1h-33zM305 309h188v1h-188zM515 309h37v1h-37zM261 310h237v1h-237zM515 310h42v1h-42zM635 310h12v1h-12zM257 311h196v2h-196zM461 311h186v5h-186zM257 313h90v1h-90zM386 313h20v1h-20zM412 313h41v1h-41zM257 314h70v1h-70zM391 314h7v1h-7zM416 314h37v1h-37zM419 315h34v1h-34zM257 316h21v1h-21zM423 316h224v1h-224zM257 317h17v1h-17zM257 323h17v2h-17zM257 326h17v1h-17zM431 317h88v1h-88zM620 317h27v1h-27zM257 318h16v1h-16zM257 321h16v2h-16zM432 318h86v1h-86zM632 318h15v1h-15zM257 319h15v2h-15zM257 327h15v1h-15zM433 319h39v1h-39zM434 320h25v1h-25zM511 320h4v1h-4zM436 321h17v1h-17zM512 321h2v1h-2zM637 321h10v1h-10zM442 323h10v1h-10zM639 323h8v1h-8zM642 324h5v1h-5zM257 325h18v1h-18zM257 328h14v1h-14zM437 356h15v1h-15zM432 357h20v1h-20zM427 358h16v1h-16zM450 358h2v1h-2zM450 378h2v1h-2zM412 360h13v1h-13zM402 361h15v1h-15zM395 362h17v1h-17zM391 363h16v1h-16zM389 364h13v1h-13zM388 365h10v1h-10zM386 366h9v1h-9zM385 367h8v1h-8zM384 368h7v1h-7zM383 369h7v1h-7zM382 370h7v1h-7zM381 371h8v1h-8zM477 371h6v1h-6zM568 371h15v1h-15zM380 372h9v1h-9zM474 372h14v1h-14zM565 372h18v1h-18zM380 373h10v1h-10zM472 373h19v1h-19zM562 373h21v1h-21zM380 374h16v1h-16zM470 374h24v1h-24zM559 374h24v1h-24zM380 375h27v1h-27zM380 379h27v2h-27zM446 375h6v1h-6zM468 375h28v1h-28zM517 375h3v1h-3zM557 375h26v1h-26zM380 376h29v1h-29zM448 376h4v1h-4zM466 376h33v1h-33zM514 376h11v1h-11zM556 376h9v1h-9zM570 376h14v2h-14zM296 377h2v1h-2zM380 377h28v2h-28zM462 377h39v1h-39zM511 377h16v1h-16zM546 377h2v1h-2zM555 377h10v1h-10zM435 378h1v1h-1zM455 378h49v1h-49zM507 378h21v1h-21zM545 378h5v1h-5zM554 378h11v1h-11zM570 378h15v1h-15zM291 379h10v1h-10zM433 379h3v1h-3zM450 379h79v2h-79zM534 379h5v1h-5zM544 379h7v1h-7zM553 379h12v1h-12zM570 379h22v1h-22zM285 380h18v1h-18zM431 380h5v1h-5zM532 380h67v1h-67zM279 381h25v1h-25zM370 381h37v1h-37zM429 381h7v1h-7zM450 381h80v1h-80zM531 381h75v1h-75zM624 381h23v1h-23zM277 382h31v1h-31zM335 382h73v1h-73zM426 382h10v1h-10zM449 382h14v1h-14zM467 382h145v1h-145zM614 382h33v1h-33zM261 383h9v1h-9zM276 383h37v1h-37zM320 383h88v1h-88zM448 383h15v1h-15zM467 383h180v1h-180zM257 384h152v1h-152zM419 384h19v1h-19zM446 384h17v1h-17zM467 384h175v1h-175zM257 385h154v1h-154zM417 385h46v1h-46zM467 385h95v1h-95zM569 385h73v1h-73zM257 386h296v1h-296zM581 386h61v1h-61zM257 387h258v1h-258zM530 387h14v1h-14zM586 387h61v1h-61zM257 388h36v1h-36zM306 388h24v1h-24zM461 388h25v1h-25zM591 388h56v1h-56zM462 389h1v1h-1zM605 389h42v1h-42zM257 390h23v1h-23zM633 390h14v1h-14z"/>
<path fill="#ffd000" d="M301 132h10v1h-10zM389 132h12v1h-12zM413 132h5v1h-5zM413 145h5v3h-5zM454 132h29v2h-29zM621 132h26v1h-26zM300 133h12v2h-12zM388 133h13v1h-13zM412 133h7v1h-7zM412 138h7v6h-7zM620 133h27v2h-27zM257 134h2v1h-2zM387 134h15v1h-15zM411 134h8v1h-8zM454 134h30v2h-30zM257 135h3v1h-3zM257 199h3v1h-3zM300 135h5v1h-5zM307 135h5v1h-5zM387 135h6v1h-6zM398 135h4v1h-4zM411 135h9v2h-9zM619 135h26v1h-26zM646 135h1v1h-1zM646 196h1v1h-1zM646 212h1v1h-1zM646 373h1v4h-1zM257 136h4v1h-4zM257 200h4v1h-4zM300 136h4v1h-4zM308 136h4v1h-4zM387 136h5v1h-5zM387 141h5v2h-5zM387 160h5v1h-5zM454 136h10v1h-10zM473 136h11v1h-11zM620 136h23v1h-23zM257 137h5v1h-5zM300 137h3v2h-3zM309 137h3v2h-3zM366 137h7v1h-7zM387 137h4v4h-4zM387 170h4v1h-4zM412 137h8v1h-8zM455 137h8v1h-8zM474 137h10v1h-10zM620 137h21v1h-21zM257 138h6v1h-6zM257 201h6v1h-6zM365 138h9v1h-9zM455 138h6v1h-6zM475 138h9v1h-9zM620 138h17v1h-17zM257 139h7v1h-7zM257 202h7v1h-7zM257 215h7v1h-7zM257 365h7v1h-7zM301 139h2v9h-2zM310 139h2v6h-2zM364 139h10v1h-10zM455 139h5v2h-5zM476 139h7v3h-7zM620 139h14v1h-14zM257 140h8v1h-8zM257 203h8v1h-8zM257 243h8v1h-8zM363 140h12v1h-12zM620 140h13v1h-13zM257 141h9v2h-9zM257 204h9v2h-9zM257 213h9v2h-9zM257 244h9v1h-9zM362 141h13v1h-13zM409 141h1v1h-1zM455 141h4v2h-4zM620 141h12v8h-12zM362 142h14v1h-14zM408 142h2v1h-2zM477 142h6v2h-6zM259 143h8v1h-8zM361 143h15v1h-15zM388 143h4v5h-4zM407 143h3v2h-3zM454 143h5v4h-5zM261 144h6v1h-6zM361 144h16v1h-16zM413 144h6v1h-6zM477 144h5v3h-5zM261 145h7v1h-7zM310 145h1v2h-1zM360 145h17v1h-17zM406 145h4v5h-4zM263 146h5v1h-5zM360 146h18v1h-18zM263 147h6v1h-6zM309 147h2v1h-2zM359 147h19v1h-19zM453 147h6v2h-6zM477 147h4v1h-4zM264 148h5v1h-5zM301 148h3v1h-3zM308 148h3v1h-3zM359 148h20v1h-20zM388 148h5v1h-5zM388 161h5v2h-5zM414 148h3v2h-3zM477 148h3v1h-3zM265 149h5v2h-5zM301 149h9v1h-9zM301 190h9v1h-9zM316 149h4v1h-4zM358 149h21v1h-21zM389 149h4v3h-4zM389 163h4v1h-4zM452 149h7v1h-7zM476 149h3v1h-3zM621 149h11v1h-11zM302 150h6v1h-6zM313 150h10v1h-10zM357 150h22v1h-22zM406 150h3v3h-3zM452 150h8v1h-8zM476 150h2v1h-2zM621 150h12v1h-12zM266 151h5v2h-5zM313 151h13v1h-13zM355 151h25v1h-25zM451 151h9v1h-9zM475 151h2v1h-2zM622 151h12v2h-12zM312 152h2v1h-2zM312 163h2v2h-2zM322 152h6v1h-6zM354 152h19v1h-19zM375 152h7v1h-7zM390 152h3v1h-3zM451 152h10v1h-10zM474 152h1v1h-1zM267 153h4v1h-4zM312 153h1v4h-1zM312 162h1v1h-1zM324 153h6v1h-6zM349 153h23v1h-23zM377 153h7v1h-7zM390 153h4v2h-4zM405 153h4v1h-4zM450 153h12v1h-12zM623 153h12v1h-12zM267 154h5v2h-5zM326 154h5v1h-5zM326 177h5v1h-5zM338 154h34v1h-34zM378 154h8v1h-8zM405 154h3v2h-3zM405 195h3v8h-3zM449 154h15v1h-15zM625 154h11v1h-11zM328 155h5v1h-5zM335 155h37v1h-37zM379 155h8v1h-8zM391 155h4v1h-4zM448 155h19v1h-19zM626 155h10v1h-10zM267 156h6v1h-6zM330 156h42v1h-42zM381 156h7v1h-7zM391 156h5v1h-5zM404 156h3v1h-3zM404 204h3v2h-3zM448 156h17v1h-17zM628 156h9v1h-9zM628 376h9v1h-9zM268 157h5v3h-5zM311 157h2v5h-2zM332 157h40v1h-40zM383 157h6v1h-6zM392 157h5v1h-5zM392 238h5v1h-5zM403 157h3v1h-3zM446 157h15v1h-15zM631 157h7v1h-7zM334 158h10v1h-10zM352 158h20v1h-20zM385 158h5v1h-5zM393 158h12v1h-12zM445 158h14v1h-14zM633 158h6v1h-6zM354 159h18v1h-18zM386 159h5v1h-5zM386 171h5v1h-5zM395 159h9v1h-9zM444 159h13v1h-13zM636 159h4v1h-4zM268 160h6v3h-6zM355 160h17v1h-17zM399 160h2v1h-2zM443 160h13v1h-13zM443 219h13v1h-13zM639 160h3v1h-3zM356 161h16v2h-16zM442 161h12v1h-12zM441 162h12v1h-12zM441 210h12v1h-12zM267 163h7v1h-7zM357 163h15v3h-15zM440 163h11v1h-11zM265 164h10v1h-10zM389 164h5v1h-5zM439 164h11v1h-11zM263 165h12v1h-12zM312 165h3v1h-3zM312 237h3v2h-3zM389 165h3v1h-3zM438 165h11v1h-11zM257 166h18v2h-18zM313 166h3v2h-3zM313 235h3v1h-3zM357 166h16v2h-16zM357 182h16v2h-16zM389 166h2v2h-2zM438 166h9v1h-9zM437 167h9v1h-9zM593 167h3v1h-3zM257 168h19v1h-19zM257 375h19v1h-19zM307 168h3v1h-3zM313 168h4v1h-4zM357 168h8v3h-8zM367 168h6v1h-6zM388 168h3v2h-3zM425 168h8v1h-8zM437 168h7v1h-7zM581 168h1v1h-1zM593 168h6v1h-6zM260 169h3v1h-3zM267 169h13v1h-13zM303 169h8v1h-8zM314 169h4v1h-4zM367 169h7v2h-7zM425 169h9v1h-9zM437 169h6v1h-6zM549 169h8v1h-8zM577 169h4v1h-4zM593 169h10v1h-10zM271 170h18v1h-18zM297 170h15v1h-15zM315 170h5v1h-5zM425 170h11v1h-11zM437 170h4v1h-4zM510 170h3v1h-3zM526 170h5v1h-5zM543 170h20v1h-20zM571 170h9v1h-9zM593 170h12v1h-12zM274 171h39v1h-39zM316 171h5v1h-5zM356 171h19v1h-19zM424 171h12v1h-12zM437 171h2v1h-2zM507 171h7v1h-7zM521 171h12v1h-12zM539 171h24v1h-24zM570 171h10v1h-10zM592 171h14v1h-14zM275 172h39v3h-39zM318 172h5v1h-5zM318 220h5v1h-5zM356 172h21v1h-21zM385 172h6v1h-6zM424 172h13v5h-13zM506 172h10v1h-10zM520 172h14v1h-14zM537 172h25v1h-25zM570 172h9v1h-9zM592 172h15v2h-15zM319 173h5v1h-5zM355 173h23v1h-23zM383 173h7v1h-7zM506 173h11v1h-11zM519 173h15v1h-15zM537 173h24v2h-24zM570 173h8v1h-8zM321 174h5v1h-5zM354 174h35v1h-35zM505 174h29v2h-29zM569 174h9v1h-9zM591 174h17v2h-17zM275 175h19v1h-19zM303 175h10v1h-10zM323 175h5v1h-5zM353 175h35v1h-35zM536 175h24v2h-24zM569 175h8v2h-8zM275 176h8v1h-8zM275 187h8v1h-8zM304 176h9v1h-9zM324 176h5v1h-5zM351 176h36v1h-36zM418 176h5v1h-5zM505 176h30v1h-30zM590 176h11v1h-11zM604 176h5v1h-5zM275 177h6v8h-6zM305 177h8v1h-8zM349 177h35v1h-35zM416 177h18v1h-18zM504 177h31v4h-31zM536 177h23v2h-23zM568 177h8v2h-8zM590 177h10v1h-10zM605 177h5v2h-5zM306 178h7v1h-7zM328 178h4v1h-4zM347 178h31v1h-31zM416 178h10v2h-10zM428 178h3v1h-3zM589 178h10v1h-10zM306 179h6v1h-6zM330 179h4v1h-4zM343 179h32v1h-32zM536 179h22v1h-22zM567 179h8v2h-8zM589 179h9v1h-9zM605 179h6v5h-6zM605 196h6v1h-6zM605 362h6v1h-6zM306 180h5v5h-5zM332 180h42v1h-42zM415 180h10v4h-10zM537 180h21v2h-21zM588 180h10v1h-10zM334 181h4v1h-4zM344 181h29v1h-29zM503 181h31v2h-31zM566 181h8v2h-8zM587 181h10v2h-10zM587 189h10v1h-10zM537 182h20v1h-20zM503 183h30v1h-30zM538 183h19v2h-19zM565 183h9v1h-9zM586 183h11v1h-11zM358 184h15v2h-15zM416 184h8v3h-8zM501 184h31v1h-31zM564 184h9v2h-9zM585 184h11v2h-11zM604 184h7v3h-7zM275 185h7v2h-7zM275 234h7v1h-7zM305 185h5v2h-5zM499 185h33v1h-33zM539 185h17v1h-17zM358 186h14v1h-14zM505 186h13v1h-13zM521 186h10v1h-10zM521 226h10v1h-10zM540 186h9v1h-9zM551 186h5v1h-5zM563 186h10v1h-10zM584 186h12v1h-12zM304 187h6v1h-6zM359 187h13v3h-13zM417 187h7v1h-7zM494 187h1v1h-1zM505 187h9v1h-9zM524 187h6v1h-6zM541 187h6v1h-6zM554 187h2v1h-2zM562 187h11v1h-11zM583 187h13v1h-13zM603 187h8v1h-8zM603 363h8v1h-8zM275 188h9v1h-9zM303 188h7v1h-7zM394 188h11v1h-11zM418 188h6v1h-6zM492 188h3v1h-3zM506 188h3v1h-3zM527 188h2v1h-2zM542 188h2v1h-2zM561 188h4v2h-4zM570 188h3v1h-3zM570 216h3v1h-3zM582 188h14v1h-14zM602 188h9v1h-9zM275 189h10v1h-10zM302 189h8v1h-8zM302 341h8v1h-8zM393 189h14v2h-14zM419 189h4v1h-4zM489 189h6v1h-6zM601 189h10v1h-10zM616 189h16v1h-16zM275 190h13v1h-13zM360 190h11v2h-11zM487 190h8v1h-8zM590 190h47v1h-47zM643 190h3v1h-3zM643 242h3v1h-3zM275 191h17v1h-17zM300 191h9v1h-9zM393 191h15v1h-15zM485 191h10v1h-10zM593 191h54v1h-54zM275 192h34v1h-34zM393 192h4v10h-4zM403 192h5v1h-5zM482 192h13v1h-13zM594 192h26v1h-26zM630 192h17v1h-17zM630 369h17v1h-17zM275 193h33v2h-33zM404 193h4v2h-4zM480 193h15v1h-15zM596 193h20v1h-20zM634 193h13v1h-13zM634 248h13v1h-13zM634 254h13v1h-13zM478 194h17v1h-17zM598 194h15v1h-15zM638 194h9v1h-9zM275 195h32v1h-32zM475 195h4v1h-4zM481 195h14v2h-14zM599 195h13v1h-13zM645 195h2v1h-2zM645 377h2v1h-2zM473 196h6v1h-6zM470 197h25v1h-25zM607 197h3v6h-3zM467 198h28v1h-28zM464 199h31v1h-31zM461 200h1v1h-1zM473 200h22v1h-22zM475 201h20v2h-20zM394 202h3v1h-3zM394 247h3v1h-3zM381 203h6v1h-6zM394 203h4v2h-4zM405 203h2v1h-2zM475 203h19v1h-19zM608 203h3v2h-3zM379 204h9v1h-9zM474 204h17v1h-17zM377 205h11v1h-11zM394 205h5v1h-5zM451 205h2v1h-2zM474 205h15v1h-15zM608 205h4v2h-4zM257 206h10v7h-10zM257 245h10v2h-10zM375 206h13v1h-13zM375 212h13v1h-13zM395 206h11v2h-11zM449 206h4v1h-4zM473 206h13v1h-13zM374 207h14v5h-14zM447 207h5v1h-5zM471 207h13v1h-13zM609 207h4v1h-4zM609 360h4v1h-4zM337 208h7v1h-7zM396 208h9v1h-9zM445 208h8v1h-8zM468 208h13v1h-13zM609 208h6v1h-6zM334 209h12v1h-12zM398 209h6v1h-6zM443 209h10v1h-10zM443 221h10v1h-10zM464 209h15v1h-15zM609 209h9v1h-9zM331 210h16v1h-16zM460 210h16v1h-16zM609 210h13v1h-13zM609 351h13v1h-13zM329 211h4v1h-4zM337 211h11v2h-11zM436 211h18v1h-18zM458 211h16v1h-16zM610 211h16v1h-16zM327 212h4v1h-4zM433 212h10v1h-10zM447 212h24v1h-24zM610 212h21v1h-21zM326 213h3v1h-3zM337 213h10v1h-10zM375 213h12v1h-12zM432 213h11v1h-11zM448 213h21v1h-21zM448 252h21v1h-21zM554 213h6v1h-6zM611 213h8v1h-8zM630 213h10v1h-10zM644 213h3v1h-3zM324 214h3v1h-3zM336 214h9v1h-9zM376 214h11v1h-11zM432 214h5v1h-5zM441 214h2v1h-2zM448 214h18v1h-18zM551 214h9v1h-9zM592 214h1v1h-1zM637 214h10v1h-10zM637 245h10v1h-10zM323 215h3v1h-3zM336 215h8v1h-8zM356 215h6v1h-6zM378 215h7v1h-7zM431 215h4v3h-4zM442 215h1v1h-1zM448 215h16v1h-16zM534 215h1v1h-1zM549 215h11v1h-11zM571 215h1v1h-1zM591 215h2v1h-2zM640 215h6v1h-6zM258 216h4v1h-4zM322 216h3v1h-3zM335 216h7v1h-7zM354 216h9v1h-9zM442 216h2v1h-2zM448 216h13v1h-13zM533 216h2v1h-2zM548 216h12v1h-12zM590 216h3v1h-3zM321 217h4v1h-4zM334 217h7v1h-7zM352 217h13v1h-13zM443 217h1v1h-1zM448 217h11v1h-11zM531 217h4v1h-4zM547 217h13v1h-13zM569 217h4v1h-4zM589 217h4v1h-4zM320 218h4v1h-4zM334 218h6v1h-6zM351 218h15v1h-15zM430 218h5v1h-5zM443 218h2v1h-2zM447 218h11v1h-11zM529 218h6v1h-6zM546 218h14v1h-14zM568 218h4v2h-4zM588 218h5v1h-5zM319 219h4v1h-4zM332 219h7v1h-7zM350 219h16v1h-16zM429 219h6v1h-6zM528 219h7v1h-7zM545 219h15v1h-15zM587 219h6v1h-6zM331 220h7v1h-7zM348 220h18v1h-18zM429 220h7v1h-7zM443 220h11v1h-11zM527 220h8v1h-8zM544 220h16v1h-16zM567 220h5v1h-5zM586 220h7v1h-7zM284 221h11v1h-11zM318 221h6v1h-6zM328 221h9v1h-9zM347 221h19v1h-19zM430 221h6v1h-6zM526 221h9v1h-9zM543 221h16v1h-16zM566 221h5v2h-5zM585 221h7v2h-7zM281 222h17v1h-17zM317 222h19v1h-19zM346 222h19v2h-19zM423 222h2v1h-2zM432 222h4v2h-4zM525 222h10v1h-10zM542 222h16v1h-16zM279 223h21v1h-21zM317 223h17v1h-17zM421 223h4v1h-4zM524 223h10v1h-10zM541 223h16v1h-16zM565 223h6v1h-6zM584 223h7v1h-7zM278 224h24v1h-24zM318 224h14v1h-14zM345 224h18v1h-18zM421 224h5v1h-5zM433 224h4v2h-4zM523 224h10v1h-10zM540 224h16v1h-16zM565 224h5v1h-5zM583 224h2v1h-2zM277 225h6v1h-6zM297 225h8v1h-8zM321 225h8v1h-8zM344 225h17v1h-17zM420 225h6v1h-6zM522 225h10v1h-10zM540 225h15v1h-15zM564 225h6v1h-6zM583 225h1v1h-1zM276 226h4v1h-4zM299 226h13v1h-13zM343 226h15v1h-15zM417 226h9v1h-9zM434 226h3v2h-3zM539 226h15v1h-15zM564 226h5v1h-5zM582 226h1v1h-1zM276 227h3v1h-3zM301 227h13v1h-13zM340 227h16v1h-16zM415 227h12v1h-12zM520 227h10v2h-10zM538 227h14v1h-14zM563 227h5v1h-5zM275 228h4v2h-4zM302 228h13v1h-13zM340 228h14v1h-14zM413 228h14v1h-14zM435 228h2v2h-2zM537 228h14v1h-14zM563 228h4v1h-4zM304 229h12v1h-12zM340 229h13v1h-13zM410 229h18v1h-18zM519 229h10v1h-10zM537 229h12v1h-12zM562 229h4v1h-4zM274 230h6v2h-6zM306 230h10v1h-10zM340 230h11v1h-11zM407 230h21v1h-21zM435 230h1v1h-1zM519 230h9v1h-9zM536 230h11v1h-11zM310 231h6v1h-6zM340 231h10v1h-10zM403 231h26v1h-26zM403 237h26v1h-26zM518 231h9v1h-9zM535 231h10v1h-10zM274 232h7v2h-7zM312 232h4v3h-4zM340 232h9v1h-9zM401 232h28v1h-28zM518 232h8v1h-8zM534 232h4v1h-4zM340 233h7v1h-7zM398 233h33v1h-33zM517 233h8v1h-8zM340 234h5v1h-5zM395 234h40v1h-40zM517 234h5v1h-5zM276 235h8v1h-8zM341 235h2v1h-2zM394 235h40v1h-40zM516 235h2v1h-2zM277 236h14v1h-14zM313 236h2v1h-2zM392 236h40v1h-40zM279 237h15v1h-15zM392 237h6v1h-6zM471 237h7v1h-7zM282 238h14v1h-14zM404 238h24v1h-24zM466 238h17v1h-17zM290 239h7v1h-7zM311 239h3v1h-3zM392 239h4v1h-4zM406 239h21v1h-21zM463 239h22v1h-22zM295 240h4v1h-4zM310 240h4v1h-4zM392 240h3v4h-3zM406 240h17v1h-17zM461 240h26v1h-26zM298 241h2v1h-2zM308 241h5v1h-5zM407 241h13v4h-13zM459 241h30v1h-30zM258 242h5v1h-5zM301 242h11v1h-11zM301 342h11v1h-11zM367 242h8v1h-8zM457 242h32v1h-32zM305 243h6v1h-6zM363 243h14v1h-14zM456 243h33v2h-33zM641 243h6v1h-6zM641 258h6v1h-6zM361 244h18v1h-18zM393 244h2v1h-2zM639 244h8v1h-8zM639 257h8v1h-8zM359 245h22v1h-22zM393 245h3v1h-3zM407 245h12v1h-12zM455 245h32v1h-32zM319 246h7v1h-7zM358 246h24v1h-24zM394 246h2v1h-2zM407 246h11v1h-11zM453 246h30v1h-30zM636 246h11v1h-11zM636 256h11v1h-11zM257 247h11v3h-11zM257 254h11v1h-11zM317 247h11v1h-11zM356 247h27v1h-27zM407 247h9v1h-9zM451 247h27v1h-27zM635 247h12v1h-12zM635 255h12v1h-12zM316 248h13v1h-13zM355 248h29v1h-29zM395 248h3v1h-3zM406 248h9v1h-9zM449 248h27v1h-27zM315 249h15v4h-15zM354 249h31v2h-31zM396 249h4v1h-4zM405 249h8v1h-8zM447 249h26v1h-26zM633 249h14v5h-14zM257 250h12v4h-12zM398 250h13v1h-13zM444 250h27v1h-27zM353 251h33v1h-33zM400 251h8v1h-8zM443 251h27v1h-27zM352 252h35v1h-35zM441 252h6v1h-6zM316 253h14v1h-14zM351 253h37v2h-37zM440 253h6v1h-6zM449 253h5v1h-5zM457 253h12v2h-12zM317 254h12v1h-12zM438 254h8v1h-8zM438 380h8v1h-8zM450 254h5v1h-5zM258 255h9v1h-9zM319 255h9v1h-9zM353 255h34v1h-34zM430 255h16v1h-16zM451 255h4v2h-4zM458 255h10v3h-10zM360 256h20v1h-20zM429 256h17v1h-17zM429 257h18v3h-18zM451 257h5v1h-5zM451 258h15v1h-15zM451 259h14v1h-14zM512 259h10v1h-10zM643 259h4v1h-4zM430 260h17v1h-17zM450 260h14v1h-14zM509 260h17v1h-17zM509 268h17v1h-17zM509 351h17v1h-17zM431 261h32v1h-32zM507 261h21v2h-21zM433 262h25v1h-25zM435 263h17v1h-17zM507 263h22v4h-22zM508 267h21v1h-21zM357 321h25v1h-25zM352 322h45v1h-45zM408 322h5v1h-5zM540 322h7v1h-7zM585 322h18v1h-18zM349 323h65v1h-65zM534 323h16v1h-16zM577 323h29v1h-29zM343 324h2v1h-2zM346 324h70v1h-70zM532 324h20v1h-20zM571 324h37v1h-37zM343 325h75v1h-75zM530 325h23v1h-23zM567 325h43v1h-43zM342 326h77v1h-77zM482 326h6v1h-6zM529 326h24v1h-24zM566 326h46v1h-46zM343 327h78v1h-78zM477 327h17v1h-17zM501 327h9v1h-9zM529 327h22v1h-22zM564 327h48v1h-48zM344 328h79v1h-79zM472 328h43v1h-43zM530 328h17v1h-17zM562 328h50v1h-50zM347 329h77v1h-77zM467 329h49v1h-49zM533 329h8v1h-8zM561 329h51v1h-51zM350 330h82v1h-82zM463 330h53v1h-53zM560 330h52v1h-52zM354 331h85v1h-85zM460 331h57v1h-57zM559 331h54v1h-54zM357 332h83v1h-83zM457 332h60v1h-60zM558 332h55v1h-55zM361 333h80v1h-80zM456 333h61v1h-61zM558 333h56v1h-56zM634 333h5v1h-5zM365 334h77v1h-77zM455 334h63v1h-63zM558 334h57v1h-57zM630 334h9v4h-9zM369 335h74v1h-74zM454 335h37v1h-37zM497 335h21v2h-21zM558 335h58v1h-58zM372 336h72v1h-72zM453 336h37v1h-37zM558 336h59v1h-59zM377 337h31v1h-31zM412 337h33v1h-33zM452 337h37v1h-37zM497 337h22v4h-22zM558 337h60v1h-60zM381 338h27v1h-27zM412 338h77v1h-77zM559 338h60v1h-60zM631 338h8v4h-8zM384 339h24v1h-24zM412 339h78v2h-78zM559 339h62v1h-62zM386 340h22v1h-22zM559 340h64v1h-64zM388 341h20v1h-20zM388 344h20v2h-20zM413 341h77v1h-77zM496 341h23v1h-23zM559 341h40v1h-40zM600 341h25v1h-25zM389 342h19v2h-19zM413 342h39v1h-39zM455 342h36v1h-36zM494 342h26v1h-26zM559 342h38v1h-38zM602 342h25v1h-25zM300 343h13v1h-13zM412 343h40v1h-40zM457 343h23v1h-23zM488 343h32v1h-32zM559 343h35v1h-35zM603 343h25v1h-25zM299 344h16v1h-16zM412 344h39v3h-39zM462 344h17v1h-17zM491 344h29v1h-29zM560 344h32v1h-32zM604 344h25v1h-25zM296 345h20v1h-20zM467 345h11v1h-11zM494 345h27v1h-27zM560 345h30v1h-30zM605 345h25v1h-25zM291 346h29v1h-29zM386 346h24v1h-24zM469 346h8v1h-8zM496 346h26v1h-26zM561 346h27v1h-27zM606 346h24v1h-24zM282 347h45v1h-45zM384 347h67v1h-67zM469 347h7v1h-7zM499 347h24v1h-24zM561 347h25v1h-25zM606 347h23v1h-23zM639 347h2v1h-2zM276 348h58v1h-58zM382 348h69v1h-69zM469 348h6v1h-6zM501 348h23v1h-23zM562 348h22v1h-22zM607 348h20v1h-20zM638 348h6v1h-6zM275 349h66v1h-66zM380 349h71v1h-71zM468 349h7v1h-7zM504 349h21v1h-21zM567 349h15v1h-15zM608 349h17v1h-17zM638 349h8v2h-8zM274 350h72v1h-72zM379 350h73v2h-73zM467 350h8v1h-8zM506 350h19v1h-19zM574 350h6v1h-6zM608 350h16v1h-16zM273 351h75v1h-75zM464 351h11v1h-11zM637 351h9v2h-9zM272 352h78v1h-78zM380 352h73v1h-73zM455 352h20v1h-20zM511 352h15v1h-15zM610 352h10v1h-10zM271 353h80v1h-80zM380 353h94v1h-94zM512 353h14v1h-14zM610 353h8v1h-8zM636 353h10v1h-10zM269 354h82v1h-82zM382 354h92v1h-92zM513 354h14v1h-14zM611 354h5v2h-5zM635 354h11v1h-11zM268 355h83v1h-83zM384 355h90v1h-90zM514 355h13v1h-13zM634 355h12v1h-12zM267 356h84v1h-84zM387 356h48v1h-48zM452 356h22v3h-22zM515 356h13v1h-13zM611 356h4v2h-4zM633 356h13v1h-13zM266 357h85v1h-85zM389 357h40v1h-40zM515 357h14v1h-14zM632 357h14v4h-14zM264 358h86v1h-86zM404 358h11v1h-11zM516 358h13v1h-13zM611 358h3v1h-3zM261 359h89v1h-89zM452 359h21v1h-21zM516 359h14v1h-14zM541 359h2v1h-2zM611 359h2v1h-2zM258 360h91v1h-91zM453 360h20v1h-20zM517 360h16v1h-16zM537 360h7v1h-7zM257 361h39v1h-39zM303 361h46v1h-46zM453 361h19v1h-19zM517 361h28v1h-28zM607 361h5v1h-5zM631 361h11v1h-11zM257 362h32v1h-32zM308 362h41v1h-41zM454 362h18v1h-18zM518 362h27v1h-27zM631 362h10v1h-10zM631 367h10v1h-10zM257 363h24v1h-24zM312 363h36v1h-36zM454 363h17v2h-17zM518 363h26v1h-26zM631 363h9v4h-9zM631 377h9v1h-9zM257 364h17v1h-17zM313 364h35v1h-35zM519 364h25v1h-25zM603 364h7v1h-7zM314 365h33v1h-33zM456 365h14v1h-14zM519 365h24v1h-24zM602 365h8v1h-8zM316 366h30v1h-30zM520 366h23v1h-23zM602 366h7v1h-7zM317 367h21v1h-21zM520 367h22v1h-22zM602 367h6v1h-6zM318 368h20v2h-20zM318 371h20v1h-20zM521 368h19v1h-19zM630 368h12v1h-12zM523 369h14v1h-14zM319 370h19v1h-19zM526 370h6v1h-6zM629 370h18v2h-18zM314 372h24v1h-24zM628 372h12v1h-12zM642 372h5v1h-5zM642 378h5v1h-5zM312 373h43v1h-43zM627 373h10v1h-10zM261 374h9v1h-9zM312 374h51v1h-51zM627 374h9v1h-9zM312 375h56v1h-56zM626 375h11v1h-11zM257 376h20v1h-20zM257 380h20v1h-20zM312 376h59v1h-59zM257 377h21v1h-21zM257 379h21v1h-21zM313 377h61v1h-61zM257 378h22v1h-22zM314 378h63v1h-63zM411 378h4v1h-4zM440 378h5v1h-5zM319 379h60v1h-60zM410 379h6v1h-6zM439 379h7v1h-7zM439 381h7v1h-7zM326 380h54v1h-54zM411 380h5v2h-5zM261 381h10v1h-10zM337 381h33v1h-33zM412 382h3v1h-3zM440 382h4v1h-4z"/>
<path fill="#ff9c00" d="M305 135h2v1h-2zM393 135h5v1h-5zM645 135h1v1h-1zM304 136h4v1h-4zM304 148h4v1h-4zM392 136h10v1h-10zM464 136h9v1h-9zM643 136h4v1h-4zM303 137h6v2h-6zM303 147h6v1h-6zM391 137h11v2h-11zM463 137h11v1h-11zM641 137h6v1h-6zM641 362h6v1h-6zM641 367h6v1h-6zM461 138h14v1h-14zM637 138h10v1h-10zM637 156h10v1h-10zM303 139h7v8h-7zM391 139h12v2h-12zM460 139h16v2h-16zM460 150h16v1h-16zM634 139h13v1h-13zM634 151h13v2h-13zM633 140h14v1h-14zM633 150h14v1h-14zM392 141h12v1h-12zM459 141h17v1h-17zM459 149h17v1h-17zM632 141h15v9h-15zM392 142h13v1h-13zM459 142h18v1h-18zM257 143h2v1h-2zM392 143h15v1h-15zM459 143h9v1h-9zM459 148h9v1h-9zM470 143h7v1h-7zM257 144h4v2h-4zM392 144h3v4h-3zM399 144h8v1h-8zM459 144h8v4h-8zM471 144h6v1h-6zM471 148h6v1h-6zM399 145h7v1h-7zM472 145h5v3h-5zM257 146h6v2h-6zM257 165h6v1h-6zM400 146h6v7h-6zM257 148h7v1h-7zM393 148h2v4h-2zM257 149h8v2h-8zM257 164h8v1h-8zM259 151h7v2h-7zM460 151h15v1h-15zM314 152h8v1h-8zM373 152h2v1h-2zM393 152h3v1h-3zM461 152h13v1h-13zM259 153h8v4h-8zM313 153h11v1h-11zM372 153h5v1h-5zM372 160h5v1h-5zM394 153h3v1h-3zM400 153h5v1h-5zM400 249h5v1h-5zM462 153h10v1h-10zM635 153h12v1h-12zM313 154h13v1h-13zM372 154h6v1h-6zM394 154h4v1h-4zM399 154h6v1h-6zM464 154h6v1h-6zM636 154h11v2h-11zM313 155h15v1h-15zM372 155h7v1h-7zM395 155h10v1h-10zM313 156h3v1h-3zM322 156h8v1h-8zM372 156h9v1h-9zM396 156h8v1h-8zM259 157h9v1h-9zM313 157h2v6h-2zM324 157h8v1h-8zM372 157h11v1h-11zM397 157h6v1h-6zM397 192h6v1h-6zM638 157h9v1h-9zM258 158h10v1h-10zM326 158h8v1h-8zM344 158h8v1h-8zM372 158h13v1h-13zM639 158h8v1h-8zM257 159h11v4h-11zM327 159h27v1h-27zM372 159h14v1h-14zM640 159h7v1h-7zM640 363h7v4h-7zM328 160h27v1h-27zM382 160h5v1h-5zM642 160h5v1h-5zM642 368h5v1h-5zM330 161h26v1h-26zM372 161h4v5h-4zM384 161h4v1h-4zM331 162h25v1h-25zM385 162h3v1h-3zM257 163h10v1h-10zM314 163h2v2h-2zM332 163h8v1h-8zM351 163h6v1h-6zM386 163h3v1h-3zM587 163h4v1h-4zM587 174h4v1h-4zM334 164h3v1h-3zM353 164h4v2h-4zM353 169h4v1h-4zM387 164h2v4h-2zM585 164h7v1h-7zM315 165h1v1h-1zM584 165h9v1h-9zM316 166h1v1h-1zM354 166h3v3h-3zM373 166h3v2h-3zM583 166h10v1h-10zM316 167h2v1h-2zM567 167h3v1h-3zM567 172h3v2h-3zM582 167h11v2h-11zM317 168h3v1h-3zM373 168h4v1h-4zM386 168h2v2h-2zM565 168h5v1h-5zM318 169h3v1h-3zM374 169h3v1h-3zM564 169h6v2h-6zM581 169h4v1h-4zM588 169h5v2h-5zM320 170h3v1h-3zM352 170h5v1h-5zM374 170h4v1h-4zM385 170h2v1h-2zM580 170h4v2h-4zM321 171h3v1h-3zM351 171h5v1h-5zM375 171h4v1h-4zM384 171h2v1h-2zM563 171h7v1h-7zM588 171h4v2h-4zM323 172h2v1h-2zM349 172h7v1h-7zM377 172h8v1h-8zM562 172h3v1h-3zM579 172h4v1h-4zM324 173h3v1h-3zM348 173h7v1h-7zM378 173h5v1h-5zM561 173h3v1h-3zM578 173h4v1h-4zM587 173h5v1h-5zM326 174h2v1h-2zM346 174h8v1h-8zM561 174h2v1h-2zM567 174h2v3h-2zM578 174h3v1h-3zM294 175h9v1h-9zM328 175h2v1h-2zM344 175h9v1h-9zM560 175h3v1h-3zM577 175h4v1h-4zM586 175h5v1h-5zM283 176h21v1h-21zM283 187h21v1h-21zM329 176h2v1h-2zM343 176h8v1h-8zM560 176h2v1h-2zM577 176h3v1h-3zM586 176h4v1h-4zM601 176h3v1h-3zM281 177h24v1h-24zM331 177h2v1h-2zM341 177h8v1h-8zM559 177h3v2h-3zM566 177h2v2h-2zM576 177h4v1h-4zM585 177h5v1h-5zM600 177h5v1h-5zM281 178h25v2h-25zM332 178h3v1h-3zM339 178h8v1h-8zM576 178h3v1h-3zM585 178h4v1h-4zM599 178h6v1h-6zM334 179h9v1h-9zM558 179h4v1h-4zM566 179h1v1h-1zM575 179h4v1h-4zM584 179h5v1h-5zM598 179h7v2h-7zM281 180h16v1h-16zM300 180h6v1h-6zM558 180h3v2h-3zM565 180h2v1h-2zM575 180h3v1h-3zM583 180h5v1h-5zM281 181h15v1h-15zM301 181h5v4h-5zM565 181h1v1h-1zM574 181h4v3h-4zM582 181h5v2h-5zM597 181h8v3h-8zM281 182h13v3h-13zM557 182h4v2h-4zM564 182h2v1h-2zM563 183h2v1h-2zM581 183h5v1h-5zM557 184h7v1h-7zM573 184h12v2h-12zM596 184h8v3h-8zM282 185h12v1h-12zM300 185h5v2h-5zM556 185h8v1h-8zM282 186h13v1h-13zM556 186h7v1h-7zM573 186h11v1h-11zM556 187h6v1h-6zM573 187h10v1h-10zM596 187h7v1h-7zM284 188h19v1h-19zM556 188h5v1h-5zM573 188h9v1h-9zM596 188h6v1h-6zM285 189h17v1h-17zM557 189h3v1h-3zM574 189h6v1h-6zM597 189h4v1h-4zM288 190h13v1h-13zM292 191h8v1h-8zM620 192h10v1h-10zM397 193h7v2h-7zM397 238h7v1h-7zM616 193h18v1h-18zM613 194h25v1h-25zM397 195h8v8h-8zM612 195h33v1h-33zM611 196h35v1h-35zM610 197h12v1h-12zM628 197h19v2h-19zM628 201h19v2h-19zM610 198h9v1h-9zM610 199h7v1h-7zM629 199h18v2h-18zM462 200h11v1h-11zM610 200h5v1h-5zM458 201h17v1h-17zM610 201h4v2h-4zM456 202h19v1h-19zM398 203h7v1h-7zM454 203h21v1h-21zM611 203h3v2h-3zM627 203h20v1h-20zM398 204h6v1h-6zM453 204h21v2h-21zM626 204h21v1h-21zM626 211h21v1h-21zM399 205h5v1h-5zM612 205h3v1h-3zM625 205h22v1h-22zM453 206h20v1h-20zM612 206h7v1h-7zM622 206h25v1h-25zM622 210h25v1h-25zM452 207h19v1h-19zM613 207h34v1h-34zM453 208h15v1h-15zM615 208h32v1h-32zM453 209h11v1h-11zM618 209h29v1h-29zM453 210h7v1h-7zM333 211h4v1h-4zM454 211h4v1h-4zM331 212h6v1h-6zM443 212h4v1h-4zM631 212h15v1h-15zM329 213h8v1h-8zM443 213h5v3h-5zM640 213h4v1h-4zM327 214h9v1h-9zM437 214h4v1h-4zM326 215h10v1h-10zM435 215h7v2h-7zM325 216h10v1h-10zM444 216h4v2h-4zM325 217h9v1h-9zM435 217h8v3h-8zM324 218h10v1h-10zM445 218h2v1h-2zM323 219h9v1h-9zM323 220h8v1h-8zM436 220h7v2h-7zM324 221h4v1h-4zM426 221h4v1h-4zM425 222h7v2h-7zM436 222h9v2h-9zM426 224h1v3h-1zM429 224h4v1h-4zM437 224h7v1h-7zM283 225h14v1h-14zM430 225h3v1h-3zM280 226h19v1h-19zM430 226h4v1h-4zM279 227h6v1h-6zM292 227h9v1h-9zM427 227h1v2h-1zM431 227h3v1h-3zM279 228h5v2h-5zM294 228h8v1h-8zM431 228h4v1h-4zM431 233h4v1h-4zM295 229h9v1h-9zM428 229h2v1h-2zM432 229h3v1h-3zM280 230h4v2h-4zM295 230h11v1h-11zM428 230h7v1h-7zM294 231h16v1h-16zM429 231h7v2h-7zM281 232h5v1h-5zM293 232h19v1h-19zM281 233h20v1h-20zM307 233h5v2h-5zM307 238h5v1h-5zM282 234h18v1h-18zM284 235h16v1h-16zM308 235h5v2h-5zM291 236h9v1h-9zM294 237h7v1h-7zM308 237h4v1h-4zM398 237h5v1h-5zM296 238h6v1h-6zM297 239h14v1h-14zM396 239h10v1h-10zM299 240h11v1h-11zM395 240h11v1h-11zM300 241h8v1h-8zM395 241h12v4h-12zM396 245h11v2h-11zM397 247h10v1h-10zM398 248h8v1h-8zM447 252h1v1h-1zM446 253h3v1h-3zM454 253h3v1h-3zM446 254h4v1h-4zM455 254h2v1h-2zM446 255h5v2h-5zM455 255h3v2h-3zM447 257h4v3h-4zM456 257h2v1h-2zM447 260h3v1h-3zM491 335h6v1h-6zM490 336h7v1h-7zM490 339h7v2h-7zM489 337h8v2h-8zM490 341h6v1h-6zM452 342h3v1h-3zM491 342h3v1h-3zM452 343h5v1h-5zM451 344h11v1h-11zM451 345h16v1h-16zM451 346h18v3h-18zM451 349h17v1h-17zM452 350h15v1h-15zM452 351h12v1h-12zM453 352h2v1h-2zM642 361h4v1h-4zM640 372h2v1h-2zM637 373h9v1h-9zM637 375h9v2h-9zM636 374h10v1h-10zM640 377h5v1h-5z"/>
<path fill="#ff6400" d="M468 143h2v1h-2zM395 144h4v2h-4zM467 144h4v1h-4zM467 145h5v3h-5zM395 146h5v6h-5zM468 148h3v1h-3zM257 151h2v7h-2zM396 152h4v1h-4zM397 153h3v1h-3zM398 154h1v1h-1zM316 156h6v1h-6zM315 157h9v1h-9zM257 158h1v1h-1zM315 158h11v1h-11zM315 159h12v1h-12zM315 160h13v1h-13zM377 160h5v1h-5zM315 161h15v1h-15zM376 161h8v1h-8zM315 162h16v1h-16zM376 162h9v1h-9zM316 163h16v1h-16zM340 163h11v1h-11zM376 163h10v1h-10zM316 164h18v1h-18zM337 164h16v1h-16zM376 164h11v4h-11zM316 165h37v1h-37zM317 166h37v1h-37zM318 167h36v1h-36zM320 168h34v1h-34zM377 168h9v2h-9zM321 169h32v1h-32zM585 169h3v1h-3zM323 170h29v1h-29zM378 170h7v1h-7zM584 170h4v2h-4zM324 171h27v1h-27zM379 171h5v1h-5zM325 172h24v1h-24zM565 172h2v1h-2zM583 172h5v1h-5zM327 173h21v1h-21zM564 173h3v1h-3zM582 173h5v1h-5zM328 174h18v1h-18zM563 174h4v2h-4zM581 174h6v1h-6zM330 175h14v1h-14zM581 175h5v1h-5zM331 176h12v1h-12zM562 176h5v1h-5zM580 176h6v1h-6zM333 177h8v1h-8zM562 177h4v3h-4zM580 177h5v1h-5zM335 178h4v1h-4zM579 178h6v1h-6zM579 179h5v1h-5zM297 180h3v1h-3zM561 180h4v2h-4zM578 180h5v1h-5zM296 181h5v1h-5zM578 181h4v2h-4zM294 182h7v3h-7zM561 182h3v1h-3zM561 183h2v1h-2zM578 183h3v1h-3zM294 185h6v1h-6zM295 186h5v1h-5zM479 195h2v2h-2zM622 197h6v1h-6zM619 198h9v1h-9zM617 199h12v1h-12zM615 200h14v1h-14zM614 201h14v2h-14zM614 203h13v1h-13zM614 204h12v1h-12zM615 205h10v1h-10zM619 206h3v1h-3zM427 224h2v1h-2zM427 225h3v2h-3zM285 227h7v1h-7zM428 227h3v2h-3zM284 228h10v1h-10zM284 231h10v1h-10zM284 229h11v2h-11zM430 229h2v1h-2zM286 232h7v1h-7zM301 233h6v1h-6zM300 234h7v1h-7zM300 235h8v2h-8zM301 237h7v1h-7zM302 238h5v1h-5z"/>
</g>
<path d="M271 132h1v4h-1z M271 387h1v4h-1z M286 132h1v4h-1z M286 387h1v4h-1z M301 132h1v4h-1z M301 387h1v4h-1z M317 132h1v4h-1z M317 387h1v4h-1z M331 132h2v9h-2z M331 382h2v9h-2z M348 132h1v4h-1z M348 387h1v4h-1z M363 132h1v4h-1z M363 387h1v4h-1z M378 132h1v4h-1z M378 387h1v4h-1z M394 132h1v4h-1z M394 387h1v4h-1z M408 132h2v9h-2z M408 382h2v9h-2z M424 132h1v4h-1z M424 387h1v4h-1z M440 132h1v4h-1z M440 387h1v4h-1z M455 132h1v4h-1z M455 387h1v4h-1z M470 132h1v4h-1z M470 387h1v4h-1z M485 132h2v9h-2z M485 382h2v9h-2z M501 132h1v4h-1z M501 387h1v4h-1z M516 132h1v4h-1z M516 387h1v4h-1z M532 132h1v4h-1z M532 387h1v4h-1z M547 132h1v4h-1z M547 387h1v4h-1z M561 132h2v9h-2z M561 382h2v9h-2z M578 132h1v4h-1z M578 387h1v4h-1z M593 132h1v4h-1z M593 387h1v4h-1z M608 132h1v4h-1z M608 387h1v4h-1z M624 132h1v4h-1z M624 387h1v4h-1z M638 132h2v9h-2z M638 382h2v9h-2z M257 147h4v1h-4z M643 147h4v1h-4z M257 164h4v1h-4z M643 164h4v1h-4z M257 182h4v1h-4z M643 182h4v1h-4z M257 200h4v1h-4z M643 200h4v1h-4z M257 217h9v2h-9z M638 217h9v2h-9z M257 235h4v1h-4z M643 235h4v1h-4z M257 252h4v1h-4z M643 252h4v1h-4z M257 270h4v1h-4z M643 270h4v1h-4z M257 288h4v1h-4z M643 288h4v1h-4z M257 305h9v2h-9z M638 305h9v2h-9z M257 323h4v1h-4z M643 323h4v1h-4z M257 340h4v1h-4z M643 340h4v1h-4z M257 358h4v1h-4z M643 358h4v1h-4z M257 376h4v1h-4z M643 376h4v1h-4z" fill="#000" shape-rendering="crispEdges"/>
<rect x="256" y="131" width="392" height="261" fill="none" stroke="#000" stroke-width="2"/>
<rect x="664" y="196" width="13" height="19" fill="#ffb8c0"/>
<rect x="664" y="215" width="13" height="17" fill="#ff7070"/>
<rect x="664" y="232" width="13" height="17" fill="#ff1414"/>
<rect x="664" y="249" width="13" height="17" fill="#ff6400"/>
<rect x="664" y="266" width="13" height="8" fill="#ff9c00"/>
<rect x="664" y="274" width="13" height="8" fill="#ffd000"/>
<rect x="664" y="282" width="13" height="9" fill="#f0ff00"/>
<rect x="664" y="291" width="13" height="8" fill="#00ff50"/>
<rect x="664" y="299" width="13" height="9" fill="#00f0ff"/>
<rect x="664" y="308" width="13" height="8" fill="#0028ff"/>
<rect x="664" y="316" width="13" height="17" fill="#0000a0"/>
<rect x="664" y="333" width="13" height="17" fill="#7000a8"/>
<rect x="664" y="350" width="13" height="17" fill="#b000b0"/>
<rect x="664" y="367" width="13" height="25" fill="#f000b4"/>
<path d="M664 196L671.5 166L677 196Z" fill="#ffd8d8" stroke="#000" stroke-width="2" stroke-linejoin="miter"/>
<path d="M664 196h13M664 215h13M664 232h13M664 249h13M664 266h13M664 274h13M664 282h13M664 291h13M664 299h13M664 308h13M664 316h13M664 333h13M664 350h13M664 367h13M664 392h13" stroke="#000" stroke-width="2"/>
<rect x="664" y="196" width="13" height="196" fill="none" stroke="#000" stroke-width="2"/>
<g fill="none" stroke="#000" stroke-linejoin="round" stroke-linecap="square" shape-rendering="crispEdges">
<path transform="translate(176.00,83.90) scale(1.2900)" d="M8.7,-6.2 Q8.7,-10 4.9,-10 H3.8 Q0,-10 0,-6.2 V-3.8 Q0,0 3.8,0 H4.9 Q8.7,0 8.7,-3.8 M8.7,-15 V0" stroke-width="1.550"/>
<path transform="translate(194.88,83.90) scale(1.2900)" d="M0,-10 V0 M-0.45,-15.5 H0.45 V-14.4 H-0.45 Z" stroke-width="1.550"/>
<path transform="translate(201.51,83.90) scale(1.2900)" d="M8.1,-8.3 Q7.6,-10 4.2,-10 Q0.3,-10 0.3,-7.5 Q0.3,-5.3 4.2,-5 Q8.3,-4.7 8.3,-2.5 Q8.3,0 4.2,0 Q0.5,0 0,-1.8" stroke-width="1.550"/>
<path transform="translate(216.77,83.90) scale(1.2900)" d="M0,-10 H6 M2.7,-15 V-2.5 Q2.7,0 5.2,0 H6.2" stroke-width="1.550"/>
<path transform="translate(230.36,83.90) scale(1.2900)" d="M0,-10 V-3.8 Q0,0 3.8,0 H4.9 Q8.7,0 8.7,-3.8 M8.7,-10 V0" stroke-width="1.550"/>
<path transform="translate(249.24,83.90) scale(1.2900)" d="M0,-10 V0 M0,-6.2 Q0,-10 3.8,-10 H6.7" stroke-width="1.550"/>
<path transform="translate(261.55,83.90) scale(1.2900)" d="M0,-6.2 Q0,-10 3.8,-10 H5.1 Q8.9,-10 8.9,-6.2 V-3.8 Q8.9,0 5.1,0 H3.8 Q0,0 0,-3.8 M0,-15 V0" stroke-width="1.550"/>
<path transform="translate(279.14,83.90) scale(1.2900)" d="M0,-10 V-3.8 Q0,0 3.8,0 H4.9 Q8.7,0 8.7,-3.8 M8.7,-10 V0" stroke-width="1.550"/>
<path transform="translate(297.37,83.90) scale(1.2900)" d="M0,-10 V0 M0,-6.2 Q0,-10 3.8,-10 H4.9 Q8.7,-10 8.7,-6.2 V0" stroke-width="1.550"/>
<path transform="translate(314.70,83.90) scale(1.2900)" d="M8.9,-7.6 Q8.6,-10 5.1,-10 H3.8 Q0,-10 0,-6.2 V-3.8 Q0,0 3.8,0 H5.1 Q8.6,0 8.9,-2.4" stroke-width="1.550"/>
<path transform="translate(331.78,83.90) scale(1.2900)" d="M0,-5 H8.7 V-6.2 Q8.7,-10 4.9,-10 H3.8 Q0,-10 0,-6.2 V-3.8 Q0,0 3.8,0 H4.9 Q8.4,0 8.7,-2.2" stroke-width="1.550"/>
<path transform="translate(364.40,83.90) scale(1.2900)" d="M4.4,-10 H4.9 Q9.3,-10 9.3,-5.6 V-4.4 Q9.3,0 4.9,0 H4.4 Q0,0 0,-4.4 V-5.6 Q0,-10 4.4,-10 Z" stroke-width="1.550"/>
<path transform="translate(380.42,83.90) scale(1.2900)" d="M2.7,0 V-12 Q2.7,-15 5.2,-15 H6.5 M0,-10 H5.8" stroke-width="1.550"/>
<path transform="translate(410.20,83.90) scale(1.2900)" d="M0,-6.2 Q0,-10 3.8,-10 H4.7 Q8.5,-10 8.5,-6.2 V-3.8 Q8.5,0 4.7,0 H3.8 Q0,0 0,-3.8 M0,-10 V4.5" stroke-width="1.550"/>
<path transform="translate(427.07,83.90) scale(1.2900)" d="M4.4,-10 H4.9 Q9.3,-10 9.3,-5.6 V-4.4 Q9.3,0 4.9,0 H4.4 Q0,0 0,-4.4 V-5.6 Q0,-10 4.4,-10 Z" stroke-width="1.550"/>
<path transform="translate(443.43,83.90) scale(1.2900)" d="M0,-10 H6 M2.7,-15 V-2.5 Q2.7,0 5.2,0 H6.2" stroke-width="1.550"/>
<path transform="translate(456.81,83.90) scale(1.2900)" d="M0,-5 H8.7 V-6.2 Q8.7,-10 4.9,-10 H3.8 Q0,-10 0,-6.2 V-3.8 Q0,0 3.8,0 H4.9 Q8.4,0 8.7,-2.2" stroke-width="1.550"/>
<path transform="translate(474.84,83.90) scale(1.2900)" d="M0,-10 V0 M0,-6.2 Q0,-10 3.8,-10 H4.9 Q8.7,-10 8.7,-6.2 V0" stroke-width="1.550"/>
<path transform="translate(490.42,83.90) scale(1.2900)" d="M0,-10 H6 M2.7,-15 V-2.5 Q2.7,0 5.2,0 H6.2" stroke-width="1.550"/>
<path transform="translate(505.36,83.90) scale(1.2900)" d="M0,-10 V0 M-0.45,-15.5 H0.45 V-14.4 H-0.45 Z" stroke-width="1.550"/>
<path transform="translate(511.78,83.90) scale(1.2900)" d="M8.7,-6.2 Q8.7,-10 4.9,-10 H3.8 Q0,-10 0,-6.2 V-3.8 Q0,0 3.8,0 H4.9 Q8.7,0 8.7,-3.8 M8.7,-10 V0" stroke-width="1.550"/>
<path transform="translate(530.20,83.90) scale(1.2900)" d="M0,-15 V0" stroke-width="1.550"/>
<path transform="translate(551.20,83.90) scale(1.2900)" d="M0,-10 H6 M2.7,-15 V-2.5 Q2.7,0 5.2,0 H6.2" stroke-width="1.550"/>
<path transform="translate(564.72,83.90) scale(1.2900)" d="M0,-5 H8.7 V-6.2 Q8.7,-10 4.9,-10 H3.8 Q0,-10 0,-6.2 V-3.8 Q0,0 3.8,0 H4.9 Q8.4,0 8.7,-2.2" stroke-width="1.550"/>
<path transform="translate(581.98,83.90) scale(1.2900)" d="M0,-10 V0 M0,-7 Q0,-10 3.2,-10 H4.8 Q8,-10 8,-7 V0 M8,-7 Q8,-10 11.2,-10 H12.8 Q16,-10 16,-7 V0" stroke-width="1.550"/>
<path transform="translate(608.66,83.90) scale(1.2900)" d="M0,-6.2 Q0,-10 3.8,-10 H4.7 Q8.5,-10 8.5,-6.2 V-3.8 Q8.5,0 4.7,0 H3.8 Q0,0 0,-3.8 M0,-10 V4.5" stroke-width="1.550"/>
<path transform="translate(625.66,83.90) scale(1.2900)" d="M0,-5 H8.7 V-6.2 Q8.7,-10 4.9,-10 H3.8 Q0,-10 0,-6.2 V-3.8 Q0,0 3.8,0 H4.9 Q8.4,0 8.7,-2.2" stroke-width="1.550"/>
<path transform="translate(644.47,83.90) scale(1.2900)" d="M0,-10 V0 M0,-6.2 Q0,-10 3.8,-10 H6.7" stroke-width="1.550"/>
<path transform="translate(656.70,83.90) scale(1.2900)" d="M8.7,-6.2 Q8.7,-10 4.9,-10 H3.8 Q0,-10 0,-6.2 V-3.8 Q0,0 3.8,0 H4.9 Q8.7,0 8.7,-3.8 M8.7,-10 V0" stroke-width="1.550"/>
<path transform="translate(672.42,83.90) scale(1.2900)" d="M0,-10 H6 M2.7,-15 V-2.5 Q2.7,0 5.2,0 H6.2" stroke-width="1.550"/>
<path transform="translate(685.94,83.90) scale(1.2900)" d="M0,-10 V-3.8 Q0,0 3.8,0 H4.9 Q8.7,0 8.7,-3.8 M8.7,-10 V0" stroke-width="1.550"/>
<path transform="translate(704.75,83.90) scale(1.2900)" d="M0,-10 V0 M0,-6.2 Q0,-10 3.8,-10 H6.7" stroke-width="1.550"/>
<path transform="translate(716.98,83.90) scale(1.2900)" d="M0,-5 H8.7 V-6.2 Q8.7,-10 4.9,-10 H3.8 Q0,-10 0,-6.2 V-3.8 Q0,0 3.8,0 H4.9 Q8.4,0 8.7,-2.2" stroke-width="1.550"/>
<path transform="translate(165.80,107.60) scale(0.7800)" d="M3.9,-15.3 Q0,-10.5 0,-6.8 Q0,-3 3.9,1.5" stroke-width="2.564"/>
<path transform="translate(173.80,107.60) scale(0.7800)" d="M0,-11 L10.5,-0.3 M10.5,-11 L0,-0.3" stroke-width="2.564"/>
<path transform="translate(187.90,107.60) scale(0.7800)" d="M0,-11.3 L4.2,-15 V0" stroke-width="2.564"/>
<path transform="translate(198.10,107.60) scale(0.7800)" d="M10,-15 H0 V0 H10 M0,-7.5 H9" stroke-width="2.564"/>
<path transform="translate(208.20,107.60) scale(0.7800)" d="M7.5,0 V-15 L0,-4.8 H11.2" stroke-width="2.564"/>
<path transform="translate(230.00,107.60) scale(0.7800)" d="M0,-10 V0 M0,-7 Q0,-10 3.2,-10 H4.8 Q8,-10 8,-7 V0 M8,-7 Q8,-10 11.2,-10 H12.8 Q16,-10 16,-7 V0" stroke-width="2.564"/>
<path transform="translate(247.00,107.60) scale(0.7800)" d="M0,-15.3 Q3.9,-10.5 3.9,-6.8 Q3.9,-3 0,1.5" stroke-width="2.564"/>
<path transform="translate(569.00,437.00) scale(0.7800)" d="M3.9,-15.3 Q0,-10.5 0,-6.8 Q0,-3 3.9,1.5" stroke-width="2.564"/>
<path transform="translate(577.00,437.00) scale(0.7800)" d="M0,-11 L10.5,-0.3 M10.5,-11 L0,-0.3" stroke-width="2.564"/>
<path transform="translate(590.00,437.00) scale(0.7800)" d="M0,-11.3 L4.2,-15 V0" stroke-width="2.564"/>
<path transform="translate(600.80,437.00) scale(0.7800)" d="M10,-15 H0 V0 H10 M0,-7.5 H9" stroke-width="2.564"/>
<path transform="translate(611.00,437.00) scale(0.7800)" d="M8.8,-15 H1.2 L0.6,-7.8 Q2.2,-9.2 4.6,-9.2 Q9.3,-9.2 9.3,-4.6 Q9.3,0 4.6,0 Q1.4,0 0,-2" stroke-width="2.564"/>
<path transform="translate(632.00,437.00) scale(0.7800)" d="M0,-10 V0 M0,-7 Q0,-10 3.2,-10 H4.8 Q8,-10 8,-7 V0 M8,-7 Q8,-10 11.2,-10 H12.8 Q16,-10 16,-7 V0" stroke-width="2.564"/>
<path transform="translate(650.00,437.00) scale(0.7800)" d="M0,-15.3 Q3.9,-10.5 3.9,-6.8 Q3.9,-3 0,1.5" stroke-width="2.564"/>
<path transform="translate(330.80,413.70) scale(0.7870)" d="M0,-11.3 L4.2,-15 V0" stroke-width="2.795"/>
<path transform="translate(405.00,413.70) scale(0.7870)" d="M0.3,-10.8 V-11.5 Q0.3,-15 3.3,-15 H6.2 Q9.2,-15 9.2,-11.5 V-9.8 Q9.2,-8.2 8,-7.1 L0,0 H9.5" stroke-width="2.795"/>
<path transform="translate(481.70,413.70) scale(0.7870)" d="M0,-13.6 L0.8,-15 H9.8 V-12.6 L4.8,-7.9 H7 Q10,-7.9 10,-4.8 V-2.8 Q10,0 7,0 H3 Q0.5,0 0,-2.5" stroke-width="2.795"/>
<path transform="translate(558.40,413.70) scale(0.7870)" d="M7.5,0 V-15 L0,-4.8 H11.2" stroke-width="2.795"/>
<path transform="translate(635.60,413.70) scale(0.7870)" d="M8.8,-15 H1.2 L0.6,-7.8 Q2.2,-9.2 4.6,-9.2 Q9.3,-9.2 9.3,-4.6 Q9.3,0 4.6,0 Q1.4,0 0,-2" stroke-width="2.795"/>
<path transform="translate(236.10,222.80) scale(0.7870)" d="M0.3,-10.8 V-11.5 Q0.3,-15 3.3,-15 H6.2 Q9.2,-15 9.2,-11.5 V-9.8 Q9.2,-8.2 8,-7.1 L0,0 H9.5" stroke-width="2.795"/>
<path transform="translate(238.00,310.90) scale(0.7870)" d="M0,-11.3 L4.2,-15 V0" stroke-width="2.795"/>
<path transform="translate(373.85,467.65) scale(1.0200)" d="M0,-15 L9.5,0 M9.5,-15 L0,0" stroke-width="1.667"/>
<path transform="translate(388.73,467.65) scale(1.0200)" d="M0,-7 H12.5" stroke-width="1.667"/>
<path transform="translate(406.67,467.65) scale(1.0200)" d="M8.9,-7.6 Q8.6,-10 5.1,-10 H3.8 Q0,-10 0,-6.2 V-3.8 Q0,0 3.8,0 H5.1 Q8.6,0 8.9,-2.4" stroke-width="1.667"/>
<path transform="translate(420.52,467.65) scale(1.0200)" d="M4.4,-10 H4.9 Q9.3,-10 9.3,-5.6 V-4.4 Q9.3,0 4.9,0 H4.4 Q0,0 0,-4.4 V-5.6 Q0,-10 4.4,-10 Z" stroke-width="1.667"/>
<path transform="translate(435.20,467.65) scale(1.0200)" d="M4.4,-10 H4.9 Q9.3,-10 9.3,-5.6 V-4.4 Q9.3,0 4.9,0 H4.4 Q0,0 0,-4.4 V-5.6 Q0,-10 4.4,-10 Z" stroke-width="1.667"/>
<path transform="translate(451.09,467.65) scale(1.0200)" d="M0,-10 V0 M0,-6.2 Q0,-10 3.8,-10 H6.7" stroke-width="1.667"/>
<path transform="translate(461.18,467.65) scale(1.0200)" d="M8.7,-6.2 Q8.7,-10 4.9,-10 H3.8 Q0,-10 0,-6.2 V-3.8 Q0,0 3.8,0 H4.9 Q8.7,0 8.7,-3.8 M8.7,-15 V0" stroke-width="1.667"/>
<path transform="translate(476.46,467.65) scale(1.0200)" d="M0,-10 V0 M-0.45,-15.5 H0.45 V-14.4 H-0.45 Z" stroke-width="1.667"/>
<path transform="translate(482.77,467.65) scale(1.0200)" d="M0,-10 V0 M0,-6.2 Q0,-10 3.8,-10 H4.9 Q8.7,-10 8.7,-6.2 V0" stroke-width="1.667"/>
<path transform="translate(496.83,467.65) scale(1.0200)" d="M8.7,-6.2 Q8.7,-10 4.9,-10 H3.8 Q0,-10 0,-6.2 V-3.8 Q0,0 3.8,0 H4.9 Q8.7,0 8.7,-3.8 M8.7,-10 V0" stroke-width="1.667"/>
<path transform="translate(509.67,467.65) scale(1.0200)" d="M0,-10 H6 M2.7,-15 V-2.5 Q2.7,0 5.2,0 H6.2" stroke-width="1.667"/>
<path transform="translate(520.78,467.65) scale(1.0200)" d="M0,-5 H8.7 V-6.2 Q8.7,-10 4.9,-10 H3.8 Q0,-10 0,-6.2 V-3.8 Q0,0 3.8,0 H4.9 Q8.4,0 8.7,-2.2" stroke-width="1.667"/>
<g transform="translate(216.65,0) rotate(-90)"><path transform="translate(-338.45,0.00) scale(1.0200)" d="M0,-15 H9 L0,0 H9" stroke-width="1.667"/>
<path transform="translate(-324.09,0.00) scale(1.0200)" d="M0,-7 H12.5" stroke-width="1.667"/>
<path transform="translate(-306.16,0.00) scale(1.0200)" d="M8.9,-7.6 Q8.6,-10 5.1,-10 H3.8 Q0,-10 0,-6.2 V-3.8 Q0,0 3.8,0 H5.1 Q8.6,0 8.9,-2.4" stroke-width="1.667"/>
<path transform="translate(-292.31,0.00) scale(1.0200)" d="M4.4,-10 H4.9 Q9.3,-10 9.3,-5.6 V-4.4 Q9.3,0 4.9,0 H4.4 Q0,0 0,-4.4 V-5.6 Q0,-10 4.4,-10 Z" stroke-width="1.667"/>
<path transform="translate(-277.65,0.00) scale(1.0200)" d="M4.4,-10 H4.9 Q9.3,-10 9.3,-5.6 V-4.4 Q9.3,0 4.9,0 H4.4 Q0,0 0,-4.4 V-5.6 Q0,-10 4.4,-10 Z" stroke-width="1.667"/>
<path transform="translate(-261.76,0.00) scale(1.0200)" d="M0,-10 V0 M0,-6.2 Q0,-10 3.8,-10 H6.7" stroke-width="1.667"/>
<path transform="translate(-251.68,0.00) scale(1.0200)" d="M8.7,-6.2 Q8.7,-10 4.9,-10 H3.8 Q0,-10 0,-6.2 V-3.8 Q0,0 3.8,0 H4.9 Q8.7,0 8.7,-3.8 M8.7,-15 V0" stroke-width="1.667"/>
<path transform="translate(-236.40,0.00) scale(1.0200)" d="M0,-10 V0 M-0.45,-15.5 H0.45 V-14.4 H-0.45 Z" stroke-width="1.667"/>
<path transform="translate(-230.10,0.00) scale(1.0200)" d="M0,-10 V0 M0,-6.2 Q0,-10 3.8,-10 H4.9 Q8.7,-10 8.7,-6.2 V0" stroke-width="1.667"/>
<path transform="translate(-216.05,0.00) scale(1.0200)" d="M8.7,-6.2 Q8.7,-10 4.9,-10 H3.8 Q0,-10 0,-6.2 V-3.8 Q0,0 3.8,0 H4.9 Q8.7,0 8.7,-3.8 M8.7,-10 V0" stroke-width="1.667"/>
<path transform="translate(-203.22,0.00) scale(1.0200)" d="M0,-10 H6 M2.7,-15 V-2.5 Q2.7,0 5.2,0 H6.2" stroke-width="1.667"/>
<path transform="translate(-192.12,0.00) scale(1.0200)" d="M0,-5 H8.7 V-6.2 Q8.7,-10 4.9,-10 H3.8 Q0,-10 0,-6.2 V-3.8 Q0,0 3.8,0 H4.9 Q8.4,0 8.7,-2.2" stroke-width="1.667"/></g>
<path transform="translate(656.75,142.25) scale(0.7200)" d="M0,-10 H6 M2.7,-15 V-2.5 Q2.7,0 5.2,0 H6.2" stroke-width="1.528"/>
<path transform="translate(663.55,142.25) scale(0.7200)" d="M0,-8.3 H14 M0,-3.6 H14" stroke-width="1.528"/>
<path transform="translate(678.45,142.25) scale(0.7200)" d="M0,-11.3 L4.2,-15 V0" stroke-width="1.528"/>
<path transform="translate(688.35,142.25) scale(0.7200)" d="M8.6,-13.3 Q7.8,-15 5,-15 Q0,-15 0,-7.5 V-4.3 Q0,0 4.6,0 Q9.3,0 9.3,-4.6 Q9.3,-9 4.6,-9 Q1.4,-9 0,-6.2" stroke-width="1.528"/>
<path transform="translate(700.35,142.25) scale(0.7200)" d="M0,-11.3 L4.2,-15 V0" stroke-width="1.528"/>
<path transform="translate(709.45,142.25) scale(0.7200)" d="M7.5,0 V-15 L0,-4.8 H11.2" stroke-width="1.528"/>
<path transform="translate(719.65,142.25) scale(0.7200)" d="M5,-15 Q10,-15 10,-7.5 Q10,0 5,0 Q0,0 0,-7.5 Q0,-15 5,-15 Z" stroke-width="1.528"/>
<path transform="translate(730.55,142.25) scale(0.7200)" d="M5,-15 Q10,-15 10,-7.5 Q10,0 5,0 Q0,0 0,-7.5 Q0,-15 5,-15 Z" stroke-width="1.528"/>
<path transform="translate(749.35,142.25) scale(0.7200)" d="M8.1,-8.3 Q7.6,-10 4.2,-10 Q0.3,-10 0.3,-7.5 Q0.3,-5.3 4.2,-5 Q8.3,-4.7 8.3,-2.5 Q8.3,0 4.2,0 Q0.5,0 0,-1.8" stroke-width="1.528"/>
<path transform="translate(688.10,235.70) scale(0.7000)" d="M0,-13 L0.7,-15 H9.5 V-11.2 L3.5,0" stroke-width="3.143"/>
<path transform="translate(688.00,278.70) scale(0.7000)" d="M0.3,-10.8 V-11.5 Q0.3,-15 3.3,-15 H6.2 Q9.2,-15 9.2,-11.5 V-9.8 Q9.2,-8.2 8,-7.1 L0,0 H9.5" stroke-width="3.143"/>
<path transform="translate(688.10,303.70) scale(0.7000)" d="M0,-7 H12.5" stroke-width="3.143"/>
<path transform="translate(701.90,303.70) scale(0.7000)" d="M0,-11.3 L4.2,-15 V0" stroke-width="3.143"/>
<path transform="translate(688.10,337.70) scale(0.7000)" d="M0,-7 H12.5" stroke-width="3.143"/>
<path transform="translate(701.10,337.70) scale(0.7000)" d="M8.8,-15 H1.2 L0.6,-7.8 Q2.2,-9.2 4.6,-9.2 Q9.3,-9.2 9.3,-4.6 Q9.3,0 4.6,0 Q1.4,0 0,-2" stroke-width="3.143"/>
<path transform="translate(688.00,396.80) scale(0.7000)" d="M0,-7 H12.5" stroke-width="3.143"/>
<path transform="translate(702.10,396.80) scale(0.7000)" d="M0,-11.3 L4.2,-15 V0" stroke-width="3.143"/>
<path transform="translate(711.20,396.80) scale(0.7000)" d="M0.3,-10.8 V-11.5 Q0.3,-15 3.3,-15 H6.2 Q9.2,-15 9.2,-11.5 V-9.8 Q9.2,-8.2 8,-7.1 L0,0 H9.5" stroke-width="3.143"/>
</g>
</svg></body></html>
